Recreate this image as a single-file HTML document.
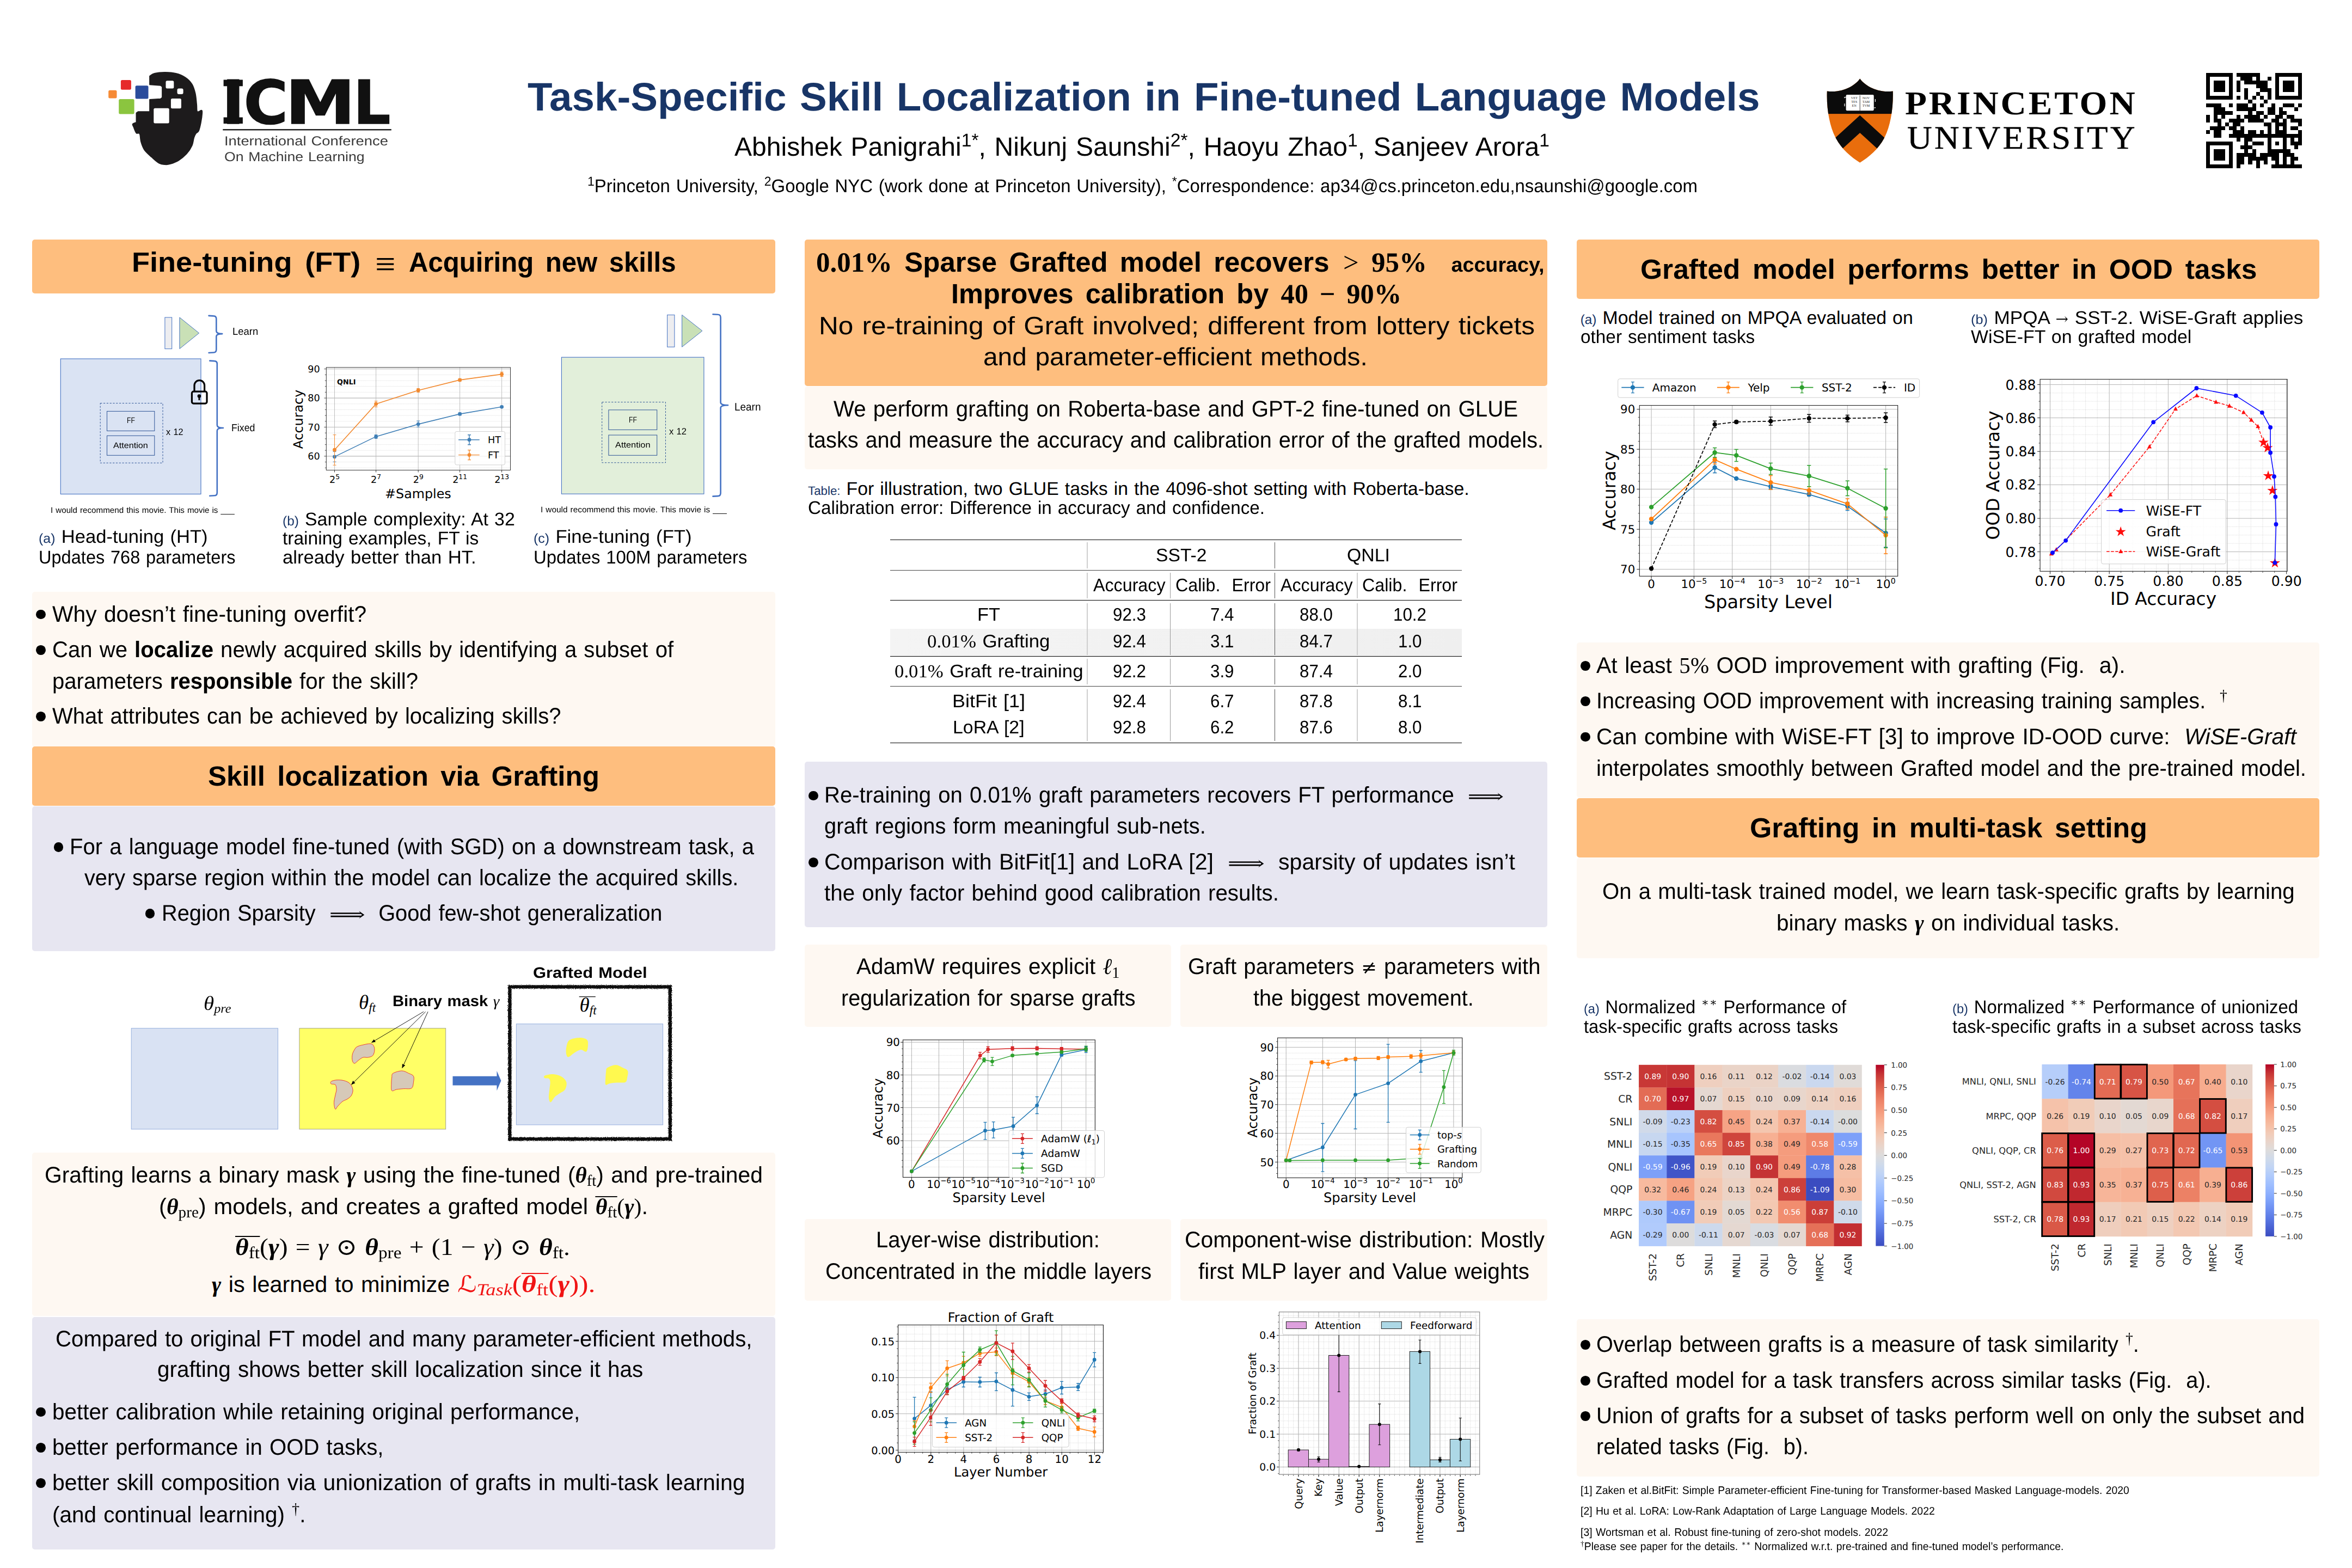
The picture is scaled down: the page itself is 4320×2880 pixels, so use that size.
<!DOCTYPE html>
<html lang="en"><head><meta charset="utf-8"><title>Task-Specific Skill Localization in Fine-tuned Language Models</title>
<style>
*{margin:0;padding:0;box-sizing:border-box}
html,body{width:4320px;height:2880px;background:#fff;overflow:hidden}
body{position:relative;font-family:"Liberation Sans",sans-serif;color:#000;text-rendering:geometricPrecision;font-kerning:normal}
.b{position:absolute;border-radius:5px}
.o{background:#FEBE7E}
.c{background:#FEF8F2}
.l{background:#E7E6F1}
.t{position:absolute;white-space:nowrap;line-height:1;transform-origin:0 0;word-spacing:.05em}
.bd{font-weight:bold}
.hd{word-spacing:.16em}
.xl{font-family:"DejaVu Sans Light","DejaVu Sans",sans-serif;font-weight:200;font-style:normal}
.m{font-family:"Liberation Serif",serif;font-style:italic}
.mb{font-family:"Liberation Serif",serif;font-style:italic;font-weight:bold}
.r{font-family:"Liberation Serif",serif}
.rb{font-family:"Liberation Serif",serif;font-weight:bold}
.dm{font-family:"DejaVu Serif",serif;font-style:normal}
.ds{font-family:"DejaVu Sans",sans-serif;font-style:normal}
.nv{color:#183567}
.sm{font-size:.72em}
.red{color:#F01414}
sup{font-size:.7em;vertical-align:baseline;position:relative;top:-.5em}
sub{font-size:.7em;vertical-align:baseline;position:relative;top:.22em}
.ov{background:linear-gradient(currentColor,currentColor) no-repeat 0 .1em/100% .045em}
svg{position:absolute;overflow:visible}
svg text{font-family:"DejaVu Sans",sans-serif}
.imp{display:inline-block;font-size:.8em;transform:scaleX(1.45);margin:0 .28em}
.ast{font-size:.62em;top:-.62em;letter-spacing:.05em}
.pb{display:inline-block;width:0;height:0}
</style></head>
<body>
<div class="t bd nv" style="left:968.5px;top:141.6px;font-size:73px;transform:scaleX(1.0219);">Task-Specific Skill Localization in Fine-tuned Language Models</div>
<div class="t" style="left:1349.0px;top:245.6px;font-size:48.4px;transform:scaleX(0.9935);">Abhishek Panigrahi<sup>1*</sup>, Nikunj Saunshi<sup>2*</sup>, Haoyu Zhao<sup>1</sup>, Sanjeev Arora<sup>1</sup></div>
<div class="t" style="left:1079.0px;top:326.0px;font-size:33.8px;transform:scaleX(0.9742);"><sup>1</sup>Princeton University, <sup>2</sup>Google NYC (work done at Princeton University), <sup>*</sup>Correspondence: ap34@cs.princeton.edu,nsaunshi@google.com</div>
<div class="b o" style="left:59px;top:440px;width:1365px;height:99px"></div>
<div class="t bd hd" style="left:241.7px;top:456.2px;font-size:51px;transform:scaleX(1.0608);">Fine-tuning (FT)</div>
<div class="t r" style="left:688.5px;top:452.5px;font-size:66px;transform:scaleX(1.0071);">&#8801;</div>
<div class="t bd hd" style="left:750.5px;top:456.2px;font-size:51px;transform:scaleX(0.9628);">Acquiring new skills</div>
<div class="t" style="left:71.4px;top:970.0px;font-size:33.8px;transform:scaleX(1.0231);"><span class="nv sm">(a)</span> Head-tuning (HT)</div>
<div class="t" style="left:71.4px;top:1007.8px;font-size:33.8px;transform:scaleX(0.9633);">Updates 768 parameters</div>
<div class="t" style="left:518.8px;top:937.5px;font-size:33.8px;transform:scaleX(1.0034);"><span class="nv sm">(b)</span> Sample complexity: At 32</div>
<div class="t" style="left:518.8px;top:973.0px;font-size:33.8px;transform:scaleX(0.9917);">training examples, FT is</div>
<div class="t" style="left:518.8px;top:1007.8px;font-size:33.8px;transform:scaleX(1.0248);">already better than HT.</div>
<div class="t" style="left:980.0px;top:970.0px;font-size:33.8px;transform:scaleX(1.0250);"><span class="nv sm">(c)</span> Fine-tuning (FT)</div>
<div class="t" style="left:980.0px;top:1007.8px;font-size:33.8px;transform:scaleX(0.9727);">Updates 100M parameters</div>
<div class="b c" style="left:59px;top:1087px;width:1365px;height:285px"></div>
<div style="position:absolute;left:66.3px;top:1119.6px;width:17.8px;height:17.8px;border-radius:50%;background:#000"></div>
<div class="t" style="left:95.5px;top:1107.5px;font-size:41.4px;transform:scaleX(0.9850);">Why doesn’t fine-tuning overfit?</div>
<div style="position:absolute;left:66.3px;top:1184.8px;width:17.8px;height:17.8px;border-radius:50%;background:#000"></div>
<div class="t" style="left:95.5px;top:1172.7px;font-size:41.4px;transform:scaleX(0.9687);">Can we <b>localize</b> newly acquired skills by identifying a subset of</div>
<div class="t" style="left:95.5px;top:1231.3px;font-size:41.4px;transform:scaleX(0.9686);">parameters <b>responsible</b> for the skill?</div>
<div style="position:absolute;left:66.3px;top:1306.8px;width:17.8px;height:17.8px;border-radius:50%;background:#000"></div>
<div class="t" style="left:95.5px;top:1294.7px;font-size:41.4px;transform:scaleX(0.9664);">What attributes can be achieved by localizing skills?</div>
<div class="b o" style="left:59px;top:1370.6px;width:1365px;height:109.20000000000005px"></div>
<div class="t bd hd" style="left:382.0px;top:1400.0px;font-size:51px;">Skill localization via Grafting</div>
<div class="b l" style="left:59px;top:1481px;width:1365px;height:266px"></div>
<div style="position:absolute;left:98.7px;top:1547.1px;width:17.8px;height:17.8px;border-radius:50%;background:#000"></div>
<div class="t" style="left:128.0px;top:1535.0px;font-size:41.4px;transform:scaleX(0.9689);">For a language model fine-tuned (with SGD) on a downstream task, a</div>
<div class="t" style="left:154.7px;top:1592.0px;font-size:41.4px;transform:scaleX(0.9599);">very sparse region within the model can localize the acquired skills.</div>
<div style="position:absolute;left:266.6px;top:1669.1px;width:17.8px;height:17.8px;border-radius:50%;background:#000"></div>
<div class="t" style="left:296.6px;top:1657.0px;font-size:41.4px;transform:scaleX(0.9606);">Region Sparsity &nbsp;<span class="dm imp">&#10233;</span>&nbsp; Good few-shot generalization</div>
<div class="b c" style="left:59px;top:2117px;width:1365px;height:300px"></div>
<div class="t" style="left:82.0px;top:2137.7px;font-size:41.4px;transform:scaleX(0.9860);">Grafting learns a binary mask <span class="mb">&gamma;</span> using the fine-tuned (<span class="mb">&theta;</span><sub class="r">ft</sub>) and pre-trained</div>
<div class="t" style="left:292.0px;top:2196.0px;font-size:41.4px;transform:scaleX(1.0080);">(<span class="mb">&theta;</span><sub class="r">pre</sub>) models, and creates a grafted model <span class="ov"><span class="mb">&theta;</span><sub class="r">ft</sub></span><span class="r">(</span><span class="mb">&gamma;</span><span class="r">)</span>.</div>
<div class="t" style="left:432.0px;top:2268.5px;font-size:44px;transform:scaleX(1.0812);"><span class="r"><span class="ov"><span class="mb">&theta;</span><sub>ft</sub></span>(<span class="mb">&gamma;</span>) = <span class="m">&gamma;</span> <span class="dm" style="font-size:.98em">&#8857;</span> <span class="mb">&theta;</span><sub>pre</sub> + (1 &minus; <span class="m">&gamma;</span>) <span class="dm" style="font-size:.98em">&#8857;</span> <span class="mb">&theta;</span><sub>ft</sub>.</span></div>
<div class="t" style="left:389.0px;top:2338.7px;font-size:41.4px;"><span class="mb">&gamma;</span> is learned to minimize</div>
<div class="t" style="left:840.0px;top:2336.7px;font-size:44px;transform:scaleX(1.1792);"><span class="red r"><span class="ds" style="font-size:.95em">&Lscr;</span><sub class="m">Task</sub>(<span class="ov"><span class="mb">&theta;</span><sub>ft</sub></span>(<span class="mb">&gamma;</span>)).</span></div>
<div class="b l" style="left:59px;top:2419px;width:1365px;height:427px"></div>
<div class="t" style="left:102.0px;top:2438.5px;font-size:41.4px;transform:scaleX(0.9714);">Compared to original FT model and many parameter-efficient methods,</div>
<div class="t" style="left:288.7px;top:2494.6px;font-size:41.4px;transform:scaleX(0.9762);">grafting shows better skill localization since it has</div>
<div style="position:absolute;left:66.3px;top:2584.6px;width:17.8px;height:17.8px;border-radius:50%;background:#000"></div>
<div class="t" style="left:95.5px;top:2572.5px;font-size:41.4px;transform:scaleX(0.9762);">better calibration while retaining original performance,</div>
<div style="position:absolute;left:66.3px;top:2649.8px;width:17.8px;height:17.8px;border-radius:50%;background:#000"></div>
<div class="t" style="left:95.5px;top:2637.7px;font-size:41.4px;transform:scaleX(0.9704);">better performance in OOD tasks,</div>
<div style="position:absolute;left:66.3px;top:2715.1px;width:17.8px;height:17.8px;border-radius:50%;background:#000"></div>
<div class="t" style="left:95.5px;top:2703.0px;font-size:41.4px;transform:scaleX(0.9893);">better skill composition via unionization of grafts in multi-task learning</div>
<div class="t" style="left:95.5px;top:2761.5px;font-size:41.4px;transform:scaleX(0.9774);">(and continual learning) <sup class="r">&dagger;</sup>.</div>
<div class="b o" style="left:1478px;top:440px;width:1364px;height:269px"></div>
<div class="t bd hd" style="left:1499.0px;top:456.0px;font-size:51px;transform:scaleX(0.9985);"><span class="rb">0.01%</span> Sparse Grafted model recovers <span class="rb"><span style="font-weight:normal" class="m">&gt;</span> 95%</span> &nbsp;<span style="font-size:.74em">accuracy,</span></div>
<div class="t bd hd" style="left:1746.8px;top:514.0px;font-size:51px;transform:scaleX(0.9906);">Improves calibration by <span class="rb">40 &minus; 90%</span></div>
<div class="t" style="left:1503.5px;top:575.4px;font-size:46.1px;transform:scaleX(1.0742);">No re-training of Graft involved; different from lottery tickets</div>
<div class="t" style="left:1806.0px;top:631.6px;font-size:46.1px;transform:scaleX(1.0375);">and parameter-efficient methods.</div>
<div class="b c" style="left:1478px;top:709.8px;width:1364px;height:152.70000000000005px"></div>
<div class="t" style="left:1531.0px;top:731.0px;font-size:41.4px;transform:scaleX(0.9726);">We perform grafting on Roberta-base and GPT-2 fine-tuned on GLUE</div>
<div class="t" style="left:1484.0px;top:787.5px;font-size:41.4px;transform:scaleX(0.9581);">tasks and measure the accuracy and calibration error of the grafted models.</div>
<div class="t" style="left:1484.0px;top:882.0px;font-size:33.8px;"><span class="nv" style="font-size:.66em">Table:</span> For illustration, two GLUE tasks in the 4096-shot setting with Roberta-base.</div>
<div class="t" style="left:1484.0px;top:917.0px;font-size:33.8px;transform:scaleX(0.9836);">Calibration error: Difference in accuracy and confidence.</div>
<div style="position:absolute;left:1635px;top:1155px;width:1049.5px;height:49.5px;background:linear-gradient(90deg,#F4F4F4,#EFEFEF)"></div>
<div style="position:absolute;left:1635px;top:991px;width:1049.5px;height:1.25px;background:#000"></div>
<div style="position:absolute;left:1635px;top:1047px;width:1049.5px;height:1.25px;background:#444"></div>
<div style="position:absolute;left:1635px;top:1102px;width:1049.5px;height:1.25px;background:#000"></div>
<div style="position:absolute;left:1635px;top:1205px;width:1049.5px;height:1.25px;background:#000"></div>
<div style="position:absolute;left:1635px;top:1260px;width:1049.5px;height:1.25px;background:#444"></div>
<div style="position:absolute;left:1635px;top:1364px;width:1049.5px;height:1.25px;background:#000"></div>
<div style="position:absolute;left:1996.4px;top:996px;width:1.2px;height:48px;background:#cfcfcf"></div>
<div style="position:absolute;left:2340.9px;top:996px;width:1.2px;height:48px;background:#555"></div>
<div style="position:absolute;left:1996.4px;top:1052px;width:1.2px;height:47px;background:#cfcfcf"></div>
<div style="position:absolute;left:2340.9px;top:1052px;width:1.2px;height:47px;background:#555"></div>
<div style="position:absolute;left:1996.4px;top:1108px;width:1.2px;height:95px;background:#cfcfcf"></div>
<div style="position:absolute;left:2340.9px;top:1108px;width:1.2px;height:95px;background:#555"></div>
<div style="position:absolute;left:1996.4px;top:1210px;width:1.2px;height:47px;background:#cfcfcf"></div>
<div style="position:absolute;left:2340.9px;top:1210px;width:1.2px;height:47px;background:#555"></div>
<div style="position:absolute;left:1996.4px;top:1266px;width:1.2px;height:95px;background:#cfcfcf"></div>
<div style="position:absolute;left:2340.9px;top:1266px;width:1.2px;height:95px;background:#555"></div>
<div style="position:absolute;left:2148.9px;top:1052px;width:1.2px;height:47px;background:#999"></div>
<div style="position:absolute;left:2492.4px;top:1052px;width:1.2px;height:47px;background:#cfcfcf"></div>
<div style="position:absolute;left:2148.9px;top:1108px;width:1.2px;height:95px;background:#999"></div>
<div style="position:absolute;left:2492.4px;top:1108px;width:1.2px;height:95px;background:#cfcfcf"></div>
<div style="position:absolute;left:2148.9px;top:1210px;width:1.2px;height:47px;background:#999"></div>
<div style="position:absolute;left:2492.4px;top:1210px;width:1.2px;height:47px;background:#cfcfcf"></div>
<div style="position:absolute;left:2148.9px;top:1266px;width:1.2px;height:95px;background:#999"></div>
<div style="position:absolute;left:2492.4px;top:1266px;width:1.2px;height:95px;background:#cfcfcf"></div>
<div class="t" style="left:2123.2px;top:1003.6px;font-size:33.4px;transform:scaleX(1.0076);">SST-2</div>
<div class="t" style="left:2474.1px;top:1003.6px;font-size:33.4px;transform:scaleX(1.0111);">QNLI</div>
<div class="t" style="left:2007.8px;top:1058.6px;font-size:33.4px;transform:scaleX(0.9650);">Accuracy</div>
<div class="t" style="left:2351.8px;top:1058.6px;font-size:33.4px;transform:scaleX(0.9650);">Accuracy</div>
<div class="t" style="left:2158.5px;top:1058.6px;font-size:33.4px;transform:scaleX(0.9644);">Calib. &nbsp;Error</div>
<div class="t" style="left:2502.1px;top:1058.6px;font-size:33.4px;transform:scaleX(0.9644);">Calib. &nbsp;Error</div>
<div class="t" style="left:1795.0px;top:1113.0px;font-size:33.4px;transform:scaleX(1.0295);">FT</div>
<div class="t" style="left:2043.6px;top:1113.0px;font-size:33.4px;transform:scaleX(0.9362);">92.3</div>
<div class="t" style="left:2223.3px;top:1113.0px;font-size:33.4px;transform:scaleX(0.9362);">7.4</div>
<div class="t" style="left:2387.1px;top:1113.0px;font-size:33.4px;transform:scaleX(0.9362);">88.0</div>
<div class="t" style="left:2559.2px;top:1113.0px;font-size:33.4px;transform:scaleX(0.9362);">10.2</div>
<div class="t" style="left:1703.2px;top:1162.4px;font-size:33.4px;transform:scaleX(1.0441);"><span class="r">0.01%</span> Grafting</div>
<div class="t" style="left:2043.6px;top:1162.4px;font-size:33.4px;transform:scaleX(0.9362);">92.4</div>
<div class="t" style="left:2223.3px;top:1162.4px;font-size:33.4px;transform:scaleX(0.9362);">3.1</div>
<div class="t" style="left:2387.1px;top:1162.4px;font-size:33.4px;transform:scaleX(0.9362);">84.7</div>
<div class="t" style="left:2567.9px;top:1162.4px;font-size:33.4px;transform:scaleX(0.9362);">1.0</div>
<div class="t" style="left:1642.8px;top:1216.8px;font-size:33.4px;transform:scaleX(1.0415);"><span class="r">0.01%</span> Graft re-training</div>
<div class="t" style="left:2043.6px;top:1216.8px;font-size:33.4px;transform:scaleX(0.9362);">92.2</div>
<div class="t" style="left:2223.3px;top:1216.8px;font-size:33.4px;transform:scaleX(0.9362);">3.9</div>
<div class="t" style="left:2387.1px;top:1216.8px;font-size:33.4px;transform:scaleX(0.9362);">87.4</div>
<div class="t" style="left:2567.9px;top:1216.8px;font-size:33.4px;transform:scaleX(0.9362);">2.0</div>
<div class="t" style="left:1749.0px;top:1272.0px;font-size:33.4px;transform:scaleX(1.0794);">BitFit [1]</div>
<div class="t" style="left:2043.6px;top:1272.0px;font-size:33.4px;transform:scaleX(0.9362);">92.4</div>
<div class="t" style="left:2223.3px;top:1272.0px;font-size:33.4px;transform:scaleX(0.9362);">6.7</div>
<div class="t" style="left:2387.1px;top:1272.0px;font-size:33.4px;transform:scaleX(0.9362);">87.8</div>
<div class="t" style="left:2567.9px;top:1272.0px;font-size:33.4px;transform:scaleX(0.9362);">8.1</div>
<div class="t" style="left:1750.2px;top:1320.0px;font-size:33.4px;transform:scaleX(1.0141);">LoRA [2]</div>
<div class="t" style="left:2043.6px;top:1320.0px;font-size:33.4px;transform:scaleX(0.9362);">92.8</div>
<div class="t" style="left:2223.3px;top:1320.0px;font-size:33.4px;transform:scaleX(0.9362);">6.2</div>
<div class="t" style="left:2387.1px;top:1320.0px;font-size:33.4px;transform:scaleX(0.9362);">87.6</div>
<div class="t" style="left:2567.9px;top:1320.0px;font-size:33.4px;transform:scaleX(0.9362);">8.0</div>
<div class="b l" style="left:1478px;top:1399px;width:1364px;height:304px"></div>
<div style="position:absolute;left:1484.9px;top:1452.5px;width:17.8px;height:17.8px;border-radius:50%;background:#000"></div>
<div class="t" style="left:1514.0px;top:1440.4px;font-size:41.4px;transform:scaleX(0.9689);">Re-training on 0.01% graft parameters recovers FT performance &nbsp;<span class="dm imp">&#10233;</span></div>
<div class="t" style="left:1514.0px;top:1496.5px;font-size:41.4px;transform:scaleX(0.9620);">graft regions form meaningful sub-nets.</div>
<div style="position:absolute;left:1484.9px;top:1575.1px;width:17.8px;height:17.8px;border-radius:50%;background:#000"></div>
<div class="t" style="left:1514.0px;top:1563.0px;font-size:41.4px;transform:scaleX(0.9912);">Comparison with BitFit[1] and LoRA [2] &nbsp;<span class="dm imp">&#10233;</span>&nbsp; sparsity of updates isn’t</div>
<div class="t" style="left:1514.0px;top:1620.0px;font-size:41.4px;transform:scaleX(0.9745);">the only factor behind good calibration results.</div>
<div class="b c" style="left:1478px;top:1735px;width:673px;height:151px"></div>
<div class="b c" style="left:2168px;top:1735px;width:674px;height:151px"></div>
<div class="t" style="left:1573.0px;top:1755.4px;font-size:41.4px;transform:scaleX(0.9754);">AdamW requires explicit <span class="m">&ell;</span><sub class="r">1</sub></div>
<div class="t" style="left:1544.5px;top:1812.8px;font-size:41.4px;transform:scaleX(0.9562);">regularization for sparse grafts</div>
<div class="t" style="left:2181.5px;top:1755.4px;font-size:41.4px;transform:scaleX(0.9692);">Graft parameters <span class="dm" style="font-size:.85em">&ne;</span> parameters with</div>
<div class="t" style="left:2302.0px;top:1812.8px;font-size:41.4px;transform:scaleX(0.9570);">the biggest movement.</div>
<div class="b c" style="left:1478px;top:2239px;width:673px;height:150px"></div>
<div class="b c" style="left:2168px;top:2239px;width:674px;height:150px"></div>
<div class="t" style="left:1609.0px;top:2257.0px;font-size:41.4px;transform:scaleX(0.9662);">Layer-wise distribution:</div>
<div class="t" style="left:1516.0px;top:2314.7px;font-size:41.4px;transform:scaleX(0.9586);">Concentrated in the middle layers</div>
<div class="t" style="left:2175.5px;top:2257.0px;font-size:41.4px;transform:scaleX(0.9882);">Component-wise distribution: Mostly</div>
<div class="t" style="left:2201.0px;top:2314.7px;font-size:41.4px;transform:scaleX(0.9794);">first MLP layer and Value weights</div>
<div class="b o" style="left:2896px;top:440px;width:1364px;height:108.60000000000002px"></div>
<div class="t bd hd" style="left:3013.0px;top:468.5px;font-size:51px;transform:scaleX(1.0110);">Grafted model performs better in OOD tasks</div>
<div class="t" style="left:2902.7px;top:568.4px;font-size:33.8px;"><span class="nv sm">(a)</span> Model trained on MPQA evaluated on</div>
<div class="t" style="left:2902.7px;top:603.4px;font-size:33.8px;transform:scaleX(0.9867);">other sentiment tasks</div>
<div class="t" style="left:3619.6px;top:568.4px;font-size:33.8px;transform:scaleX(1.0403);"><span class="nv sm">(b)</span> MPQA <span class="dm" style="font-size:.8em">&rarr;</span> SST-2. WiSE-Graft applies</div>
<div class="t" style="left:3619.6px;top:603.4px;font-size:33.8px;transform:scaleX(1.0021);">WiSE-FT on grafted model</div>
<div class="b c" style="left:2896px;top:1180px;width:1364px;height:285px"></div>
<div style="position:absolute;left:2903.2px;top:1214.1px;width:17.8px;height:17.8px;border-radius:50%;background:#000"></div>
<div class="t" style="left:2932.0px;top:1202.0px;font-size:41.4px;transform:scaleX(0.9914);">At least <span class="r">5%</span> OOD improvement with grafting (Fig. &nbsp;a).</div>
<div style="position:absolute;left:2903.2px;top:1279.1px;width:17.8px;height:17.8px;border-radius:50%;background:#000"></div>
<div class="t" style="left:2932.0px;top:1267.0px;font-size:41.4px;transform:scaleX(0.9569);">Increasing OOD improvement with increasing training samples. &nbsp;<sup class="r">&dagger;</sup></div>
<div style="position:absolute;left:2903.2px;top:1344.6px;width:17.8px;height:17.8px;border-radius:50%;background:#000"></div>
<div class="t" style="left:2932.0px;top:1332.5px;font-size:41.4px;transform:scaleX(0.9833);">Can combine with WiSE-FT [3] to improve ID-OOD curve: &nbsp;<i>WiSE-Graft</i></div>
<div class="t" style="left:2932.0px;top:1390.7px;font-size:41.4px;transform:scaleX(0.9685);">interpolates smoothly between Grafted model and the pre-trained model.</div>
<div class="b o" style="left:2896px;top:1466px;width:1364px;height:108.70000000000005px"></div>
<div class="t bd hd" style="left:3213.7px;top:1494.5px;font-size:51px;transform:scaleX(1.0155);">Grafting in multi-task setting</div>
<div class="b c" style="left:2896px;top:1576px;width:1364px;height:184px"></div>
<div class="t" style="left:2943.0px;top:1617.0px;font-size:41.4px;transform:scaleX(0.9715);">On a multi-task trained model, we learn task-specific grafts by learning</div>
<div class="t" style="left:3262.7px;top:1675.4px;font-size:41.4px;transform:scaleX(0.9785);">binary masks <span class="mb">&gamma;</span> on individual tasks.</div>
<div class="t" style="left:2908.8px;top:1834.0px;font-size:33.8px;transform:scaleX(0.9698);"><span class="nv sm">(a)</span> Normalized <sup class="dm ast">&lowast;&lowast;</sup> Performance of</div>
<div class="t" style="left:2908.8px;top:1869.7px;font-size:33.8px;transform:scaleX(0.9690);">task-specific grafts across tasks</div>
<div class="t" style="left:3586.0px;top:1834.0px;font-size:33.8px;transform:scaleX(0.9725);"><span class="nv sm">(b)</span> Normalized <sup class="dm ast">&lowast;&lowast;</sup> Performance of unionized</div>
<div class="t" style="left:3586.0px;top:1869.7px;font-size:33.8px;transform:scaleX(0.9711);">task-specific grafts in a subset across tasks</div>
<div class="b c" style="left:2896px;top:2422.7px;width:1364px;height:289.3000000000002px"></div>
<div style="position:absolute;left:2903.2px;top:2460.8px;width:17.8px;height:17.8px;border-radius:50%;background:#000"></div>
<div class="t" style="left:2932.0px;top:2448.7px;font-size:41.4px;transform:scaleX(0.9600);">Overlap between grafts is a measure of task similarity <sup class="r">&dagger;</sup>.</div>
<div style="position:absolute;left:2903.2px;top:2526.9px;width:17.8px;height:17.8px;border-radius:50%;background:#000"></div>
<div class="t" style="left:2932.0px;top:2514.8px;font-size:41.4px;transform:scaleX(0.9594);">Grafted model for a task transfers across similar tasks (Fig. &nbsp;a).</div>
<div style="position:absolute;left:2903.2px;top:2592.1px;width:17.8px;height:17.8px;border-radius:50%;background:#000"></div>
<div class="t" style="left:2932.0px;top:2580.0px;font-size:41.4px;transform:scaleX(0.9673);">Union of grafts for a subset of tasks perform well on only the subset and</div>
<div class="t" style="left:2932.0px;top:2637.0px;font-size:41.4px;transform:scaleX(0.9546);">related tasks (Fig. &nbsp;b).</div>
<div class="t" style="left:2902.7px;top:2728.0px;font-size:20.2px;transform:scaleX(0.9589);">[1] Zaken et al.BitFit: Simple Parameter-efficient Fine-tuning for Transformer-based Masked Language-models. 2020</div>
<div class="t" style="left:2902.7px;top:2766.0px;font-size:20.2px;transform:scaleX(0.9634);">[2] Hu et al. LoRA: Low-Rank Adaptation of Large Language Models. 2022</div>
<div class="t" style="left:2902.7px;top:2804.6px;font-size:20.2px;transform:scaleX(0.9633);">[3] Wortsman et al. Robust fine-tuning of zero-shot models. 2022</div>
<div class="t" style="left:2902.7px;top:2831.0px;font-size:20.2px;transform:scaleX(0.9585);"><sup class="r">&dagger;</sup>Please see paper for the details. <sup class="dm ast">&lowast;&lowast;</sup> Normalized w.r.t. pre-trained and fine-tuned model’s performance.</div>
<svg style="left:0;top:0" width="800" height="340" viewBox="0 0 800 340"><path d="M274.9 139.6 C276.4 138.8 278.8 135.8 283.6 134.7 C288.3 133.5 296.7 132.7 303.3 132.7 C309.9 132.7 316.9 133.1 323.0 134.7 C329.2 136.2 335.4 138.8 340.3 142.1 C345.2 145.3 349.5 149.5 352.6 154.4 C355.7 159.3 357.3 165.5 358.8 171.6 C360.2 177.8 360.6 185.8 361.2 191.4 C361.9 196.9 361.0 203.1 362.5 204.9 C363.9 206.8 368.4 202.1 369.9 202.5 C371.4 202.9 371.5 203.5 371.4 207.4 C371.2 211.3 370.0 220.4 368.9 225.9 C367.8 231.4 366.4 237.5 364.9 240.7 C363.5 243.9 361.5 243.1 360.0 245.1 C358.6 247.2 357.5 249.2 356.3 253.0 C355.1 256.8 354.9 262.9 352.6 267.8 C350.4 272.8 346.9 278.1 342.8 282.6 C338.6 287.1 332.9 291.9 328.0 294.9 C323.0 298.0 317.3 299.9 313.2 301.1 C309.1 302.3 306.8 302.6 303.3 302.3 C299.8 302.1 296.3 302.1 292.2 299.9 C288.1 297.6 283.2 292.9 278.6 288.8 C274.1 284.7 268.4 279.9 265.1 275.2 C261.8 270.5 260.3 265.4 258.9 260.4 C257.5 255.5 257.9 248.3 256.4 245.6 C255.0 243.0 252.1 246.5 250.3 244.4 C248.4 242.3 246.5 236.1 245.3 233.3 C244.2 230.5 242.8 229.3 243.6 227.9 C244.4 226.4 249.2 225.2 250.3 224.7 L250.3 207.4 L254.0 204.9 L274.9 204.9 L274.9 182.7 L294.7 181.5 L297.9 179.0 L297.9 159.3 L294.7 156.9 L274.9 155.6 Z" fill="#1d1b1c" stroke="#1d1b1c" stroke-width="1.5" stroke-linejoin="round"/><rect x="304.5" y="148.2" width="14.8" height="14.3" rx="2.5" fill="#fff"/><rect x="325.5" y="162.5" width="11.1" height="10.4" rx="3" fill="#fff"/><rect x="313.9" y="181.0" width="19.0" height="18.2" rx="2.5" fill="#fff"/><rect x="282.3" y="198.8" width="28.4" height="27.6" rx="2.5" fill="#fff"/><rect x="221.9" y="147.0" width="19.0" height="17.8" rx="2.5" fill="#E62A2B"/><rect x="199.2" y="165.7" width="15.3" height="14.8" rx="2.5" fill="#F68B35"/><rect x="248.6" y="157.3" width="23.9" height="24.2" rx="2.5" fill="#2A4C9C"/><rect x="218.2" y="182.0" width="28.4" height="27.4" rx="2.5" fill="#8BC53F"/><rect x="410.6" y="146.5" width="35.3" height="11.8" fill="#111"/><rect x="410.6" y="215.5" width="35.3" height="11.6" fill="#111"/><rect x="409.3" y="237.0" width="309.5" height="2.5" fill="#222"/></svg>
<div class="t bd" style="left:407.7px;top:135.1px;font-size:110.6px;font-family:'DejaVu Sans',sans-serif;color:#111;-webkit-text-stroke:1.6px #111;">I</div>
<div class="t bd" style="left:447.7px;top:135.1px;font-size:110.6px;font-family:'DejaVu Sans',sans-serif;color:#111;-webkit-text-stroke:1.6px #111;">C</div>
<div class="t bd" style="left:523.7px;top:135.1px;font-size:110.6px;transform:scaleX(1.1700);font-family:'DejaVu Sans',sans-serif;color:#111;-webkit-text-stroke:1.6px #111;">M</div>
<div class="t bd" style="left:649.4px;top:135.1px;font-size:110.6px;transform:scaleX(0.9700);font-family:'DejaVu Sans',sans-serif;color:#111;-webkit-text-stroke:1.6px #111;">L</div>
<div class="t" style="left:411.8px;top:248.1px;font-size:24px;transform:scaleX(1.1394);color:#3a3a3a;">International Conference</div>
<div class="t" style="left:411.8px;top:277.2px;font-size:24px;transform:scaleX(1.1113);color:#3a3a3a;">On Machine Learning</div>
<svg style="left:3330px;top:120px" width="640" height="210" viewBox="3330 120 640 210"><defs><clipPath id="shc"><path d="M3416.2 144.5 C3424.9 156.9 3448.6 171.4 3476.8 167.4 C3477.6 199.1 3472.3 230.7 3461.8 251.8 C3451.3 272.9 3432.8 288.7 3416.2 298.7 C3399.9 288.7 3381.4 272.9 3370.9 251.8 C3360.3 230.7 3354.5 199.1 3355.8 167.4 C3384.0 171.4 3407.8 156.9 3416.2 144.5 Z"/></clipPath></defs><g clip-path="url(#shc)"><rect x="3330" y="120" width="300" height="210" fill="#E96D0C"/><rect x="3345.8" y="135.8" width="142.3" height="73.3" fill="#0b0b0b"/><path d="M3416.2 211.7 L3488.2 277.6 L3488.2 309.8 L3416.2 243.9 L3344.2 309.8 L3344.2 277.6 Z" fill="#0b0b0b"/></g><rect x="3390.6" y="174.0" width="51.1" height="29.3" rx="2" fill="#fff"/><rect x="3388.0" y="178.5" width="56.4" height="19.5" fill="none" stroke="#fff" stroke-width="1.2" stroke-dasharray="5 10"/><line x1="3416.2" y1="175.0" x2="3416.2" y2="203.3" stroke="#0b0b0b" stroke-width="0.8"/><text x="3405.7" y="182.2" font-size="6.2" text-anchor="middle" style="font-family:'Liberation Serif',serif" fill="#111">VET</text><text x="3427.5" y="182.2" font-size="6.2" text-anchor="middle" style="font-family:'Liberation Serif',serif" fill="#111">NOV</text><text x="3405.7" y="189.3" font-size="6.2" text-anchor="middle" style="font-family:'Liberation Serif',serif" fill="#111">TES</text><text x="3427.5" y="189.3" font-size="6.2" text-anchor="middle" style="font-family:'Liberation Serif',serif" fill="#111">TAM</text><text x="3405.7" y="196.4" font-size="6.2" text-anchor="middle" style="font-family:'Liberation Serif',serif" fill="#111">EN</text><text x="3427.5" y="196.4" font-size="6.2" text-anchor="middle" style="font-family:'Liberation Serif',serif" fill="#111">TVM</text></svg>
<div class="t rb" style="left:3498.7px;top:159.6px;font-size:61px;transform:scaleX(1.0721);letter-spacing:.06em;">PRINCETON</div>
<div class="t r" style="left:3502.7px;top:222.9px;font-size:60px;transform:scaleX(1.0526);letter-spacing:.07em;-webkit-text-stroke:.5px #000;">UNIVERSITY</div>
<svg style="left:4052.1px;top:134.0px" width="176.1" height="174.9" viewBox="0 0 25 25" preserveAspectRatio="none" shape-rendering="crispEdges"><path fill="#000" d="M0 0h7v1h-7zM8 0h6v1h-6zM18 0h7v1h-7zM0 1h1v1h-1zM6 1h1v1h-1zM9 1h3v1h-3zM13 1h1v1h-1zM16 1h1v1h-1zM18 1h1v1h-1zM24 1h1v1h-1zM0 2h1v1h-1zM2 2h3v1h-3zM6 2h1v1h-1zM8 2h1v1h-1zM10 2h6v1h-6zM18 2h1v1h-1zM20 2h3v1h-3zM24 2h1v1h-1zM0 3h1v1h-1zM2 3h3v1h-3zM6 3h1v1h-1zM8 3h1v1h-1zM13 3h3v1h-3zM18 3h1v1h-1zM20 3h3v1h-3zM24 3h1v1h-1zM0 4h1v1h-1zM2 4h3v1h-3zM6 4h1v1h-1zM8 4h1v1h-1zM10 4h1v1h-1zM14 4h3v1h-3zM18 4h1v1h-1zM20 4h3v1h-3zM24 4h1v1h-1zM0 5h1v1h-1zM6 5h1v1h-1zM10 5h1v1h-1zM13 5h1v1h-1zM16 5h1v1h-1zM18 5h1v1h-1zM24 5h1v1h-1zM0 6h7v1h-7zM8 6h1v1h-1zM10 6h1v1h-1zM12 6h1v1h-1zM14 6h1v1h-1zM16 6h1v1h-1zM18 6h7v1h-7zM11 7h1v1h-1zM15 7h1v1h-1zM0 8h4v1h-4zM6 8h1v1h-1zM8 8h3v1h-3zM12 8h1v1h-1zM14 8h1v1h-1zM17 8h1v1h-1zM20 8h3v1h-3zM24 8h1v1h-1zM2 9h3v1h-3zM8 9h5v1h-5zM16 9h2v1h-2zM19 9h1v1h-1zM23 9h1v1h-1zM2 10h5v1h-5zM11 10h1v1h-1zM13 10h2v1h-2zM16 10h2v1h-2zM19 10h2v1h-2zM0 11h1v1h-1zM2 11h1v1h-1zM4 11h1v1h-1zM8 11h1v1h-1zM10 11h4v1h-4zM15 11h1v1h-1zM18 11h2v1h-2zM21 11h2v1h-2zM0 12h1v1h-1zM2 12h2v1h-2zM6 12h4v1h-4zM11 12h4v1h-4zM17 12h2v1h-2zM20 12h1v1h-1zM22 12h3v1h-3zM3 13h1v1h-1zM5 13h1v1h-1zM7 13h2v1h-2zM15 13h2v1h-2zM18 13h3v1h-3zM24 13h1v1h-1zM1 14h4v1h-4zM6 14h2v1h-2zM9 14h1v1h-1zM16 14h1v1h-1zM18 14h1v1h-1zM20 14h1v1h-1zM22 14h2v1h-2zM0 15h1v1h-1zM2 15h2v1h-2zM7 15h3v1h-3zM11 15h2v1h-2zM14 15h1v1h-1zM16 15h1v1h-1zM18 15h3v1h-3zM24 15h1v1h-1zM2 16h2v1h-2zM6 16h19v1h-19zM8 17h1v1h-1zM10 17h2v1h-2zM16 17h1v1h-1zM20 17h1v1h-1zM22 17h1v1h-1zM24 17h1v1h-1zM0 18h7v1h-7zM10 18h1v1h-1zM12 18h3v1h-3zM16 18h1v1h-1zM18 18h1v1h-1zM20 18h1v1h-1zM22 18h3v1h-3zM0 19h1v1h-1zM6 19h1v1h-1zM9 19h3v1h-3zM16 19h1v1h-1zM20 19h1v1h-1zM23 19h1v1h-1zM0 20h1v1h-1zM2 20h3v1h-3zM6 20h1v1h-1zM10 20h1v1h-1zM12 20h1v1h-1zM16 20h6v1h-6zM0 21h1v1h-1zM2 21h3v1h-3zM6 21h1v1h-1zM8 21h5v1h-5zM14 21h5v1h-5zM20 21h3v1h-3zM0 22h1v1h-1zM2 22h3v1h-3zM6 22h1v1h-1zM8 22h2v1h-2zM11 22h5v1h-5zM17 22h2v1h-2zM20 22h1v1h-1zM22 22h2v1h-2zM0 23h1v1h-1zM6 23h1v1h-1zM8 23h2v1h-2zM11 23h1v1h-1zM13 23h1v1h-1zM15 23h1v1h-1zM18 23h1v1h-1zM20 23h1v1h-1zM22 23h1v1h-1zM0 24h7v1h-7zM8 24h1v1h-1zM13 24h1v1h-1zM17 24h8v1h-8z"/></svg>
<svg style="left:0;top:560px" width="1440" height="400" viewBox="0 560 1440 400"><rect x="111.3" y="659.0" width="257.7" height="248.5" fill="#DAE3F3" stroke="#4472C4" stroke-width="1.1" /><rect x="302.9" y="583.0" width="12.8" height="57.7" fill="#EDEDF0" stroke="#4472C4" stroke-width="1" /><polygon points="329.9,583.0 329.9,640.6 365.6,611.8" fill="#C9E0B6" stroke="#4472C4" stroke-width="1"/><path d="M383.5 579.9 L392.3 580.4 Q397.3 580.4 397.3 585.9 L397.3 608.1 Q397.3 613.1 408.2 613.1 Q397.3 613.1 397.3 618.1 L397.3 642.0 Q397.3 647.5 392.3 647.5 L383.5 648.0" fill="none" stroke="#4472C4" stroke-width="2.6" stroke-linecap="round" stroke-linejoin="round"/><path d="M385.3 662.6 L393.8 663.1 Q398.8 663.1 398.8 668.6 L398.8 781.0 Q398.8 786.0 410.0 786.0 Q398.8 786.0 398.8 791.0 L398.8 904.8 Q398.8 910.3 393.8 910.3 L385.3 910.8" fill="none" stroke="#4472C4" stroke-width="2.6" stroke-linecap="round" stroke-linejoin="round"/><rect x="184.2" y="740.6" width="114.8" height="109.7" fill="none" stroke="#2F5597" stroke-width="1.0" stroke-dasharray="3.2 2.6"/><rect x="196.5" y="755.4" width="87.3" height="36.0" fill="#DAE3F3" stroke="#2F5597" stroke-width="1" /><rect x="196.5" y="800.3" width="87.3" height="36.0" fill="#DAE3F3" stroke="#2F5597" stroke-width="1" /><rect x="352.4" y="719.2" width="27.6" height="21.9" rx="3" fill="none" stroke="#000" stroke-width="3.2"/><path d="M357.0 718.7 V708.0 A9.3 9.3 0 0 1 375.6 708.0 V718.7" fill="none" stroke="#000" stroke-width="3.2"/><circle cx="365.9" cy="727.6" r="3.3" fill="#000"/><rect x="364.5" y="727.6" width="2.8" height="7.5" fill="#000"/><rect x="1031.4" y="656.2" width="261.5" height="251.0" fill="#E2EFDA" stroke="#4472C4" stroke-width="1.1" /><rect x="1225.6" y="578.4" width="13.3" height="58.9" fill="#EDEDF0" stroke="#4472C4" stroke-width="1" /><polygon points="1252.6,578.4 1252.6,637.3 1289.9,607.7" fill="#C9E0B6" stroke="#4472C4" stroke-width="1"/><path d="M1309.5 577.3 L1318.6 577.8 Q1323.6 577.8 1323.6 583.3 L1323.6 739.2 Q1323.6 744.2 1337.1 744.2 Q1323.6 744.2 1323.6 749.2 L1323.6 905.6 Q1323.6 911.1 1318.6 911.1 L1309.5 911.6" fill="none" stroke="#4472C4" stroke-width="2.6" stroke-linecap="round" stroke-linejoin="round"/><rect x="1105.7" y="738.6" width="116.8" height="111.2" fill="none" stroke="#2F5597" stroke-width="1.0" stroke-dasharray="3.2 2.6"/><rect x="1117.9" y="752.9" width="88.8" height="36.5" fill="#E2EFDA" stroke="#2F5597" stroke-width="1" /><rect x="1117.9" y="799.1" width="88.8" height="37.2" fill="#E2EFDA" stroke="#2F5597" stroke-width="1" /></svg>
<div class="t" style="left:426.6px;top:600.4px;font-size:19px;transform:scaleX(0.9710);">Learn</div>
<div class="t" style="left:424.8px;top:776.7px;font-size:19px;transform:scaleX(0.9334);">Fixed</div>
<div class="t" style="left:232.7px;top:764.9px;font-size:15px;transform:scaleX(0.8074);">FF</div>
<div class="t" style="left:208.0px;top:810.8px;font-size:15px;transform:scaleX(1.0771);">Attention</div>
<div class="t" style="left:305.4px;top:785.3px;font-size:17px;transform:scaleX(0.9514);">x 12</div>
<div class="t" style="left:92.7px;top:929.9px;font-size:15px;transform:scaleX(1.0133);">I would recommend this movie. This movie is ___</div>
<div class="t" style="left:1349.1px;top:737.9px;font-size:20px;transform:scaleX(0.9476);">Learn</div>
<div class="t" style="left:1154.9px;top:764.1px;font-size:15px;transform:scaleX(0.8074);">FF</div>
<div class="t" style="left:1129.7px;top:810.0px;font-size:15px;transform:scaleX(1.0900);">Attention</div>
<div class="t" style="left:1228.6px;top:784.0px;font-size:17px;transform:scaleX(0.9669);">x 12</div>
<div class="t" style="left:993.2px;top:929.2px;font-size:15px;transform:scaleX(1.0255);">I would recommend this movie. This movie is ___</div>
<svg style="left:520px;top:650px" width="440" height="290" viewBox="520 650 440 290"><rect x="599.3" y="674.9" width="338.2" height="188.6" fill="#fff"/><line x1="599.3" x2="937.5" y1="677.7" y2="677.7" stroke="#b8b8b8" stroke-width="1.1"/><line x1="599.3" x2="937.5" y1="688.4" y2="688.4" stroke="#cfcfcf" stroke-width="0.7" stroke-dasharray="1 1"/><line x1="599.3" x2="937.5" y1="699.1" y2="699.1" stroke="#cfcfcf" stroke-width="0.7" stroke-dasharray="1 1"/><line x1="599.3" x2="937.5" y1="709.7" y2="709.7" stroke="#cfcfcf" stroke-width="0.7" stroke-dasharray="1 1"/><line x1="599.3" x2="937.5" y1="720.4" y2="720.4" stroke="#cfcfcf" stroke-width="0.7" stroke-dasharray="1 1"/><line x1="599.3" x2="937.5" y1="731.1" y2="731.1" stroke="#b8b8b8" stroke-width="1.1"/><line x1="599.3" x2="937.5" y1="741.8" y2="741.8" stroke="#cfcfcf" stroke-width="0.7" stroke-dasharray="1 1"/><line x1="599.3" x2="937.5" y1="752.5" y2="752.5" stroke="#cfcfcf" stroke-width="0.7" stroke-dasharray="1 1"/><line x1="599.3" x2="937.5" y1="763.1" y2="763.1" stroke="#cfcfcf" stroke-width="0.7" stroke-dasharray="1 1"/><line x1="599.3" x2="937.5" y1="773.8" y2="773.8" stroke="#cfcfcf" stroke-width="0.7" stroke-dasharray="1 1"/><line x1="599.3" x2="937.5" y1="784.5" y2="784.5" stroke="#b8b8b8" stroke-width="1.1"/><line x1="599.3" x2="937.5" y1="795.2" y2="795.2" stroke="#cfcfcf" stroke-width="0.7" stroke-dasharray="1 1"/><line x1="599.3" x2="937.5" y1="805.9" y2="805.9" stroke="#cfcfcf" stroke-width="0.7" stroke-dasharray="1 1"/><line x1="599.3" x2="937.5" y1="816.6" y2="816.6" stroke="#cfcfcf" stroke-width="0.7" stroke-dasharray="1 1"/><line x1="599.3" x2="937.5" y1="827.2" y2="827.2" stroke="#cfcfcf" stroke-width="0.7" stroke-dasharray="1 1"/><line x1="599.3" x2="937.5" y1="837.9" y2="837.9" stroke="#b8b8b8" stroke-width="1.1"/><line x1="599.3" x2="937.5" y1="848.6" y2="848.6" stroke="#cfcfcf" stroke-width="0.7" stroke-dasharray="1 1"/><line x1="599.3" x2="937.5" y1="859.3" y2="859.3" stroke="#cfcfcf" stroke-width="0.7" stroke-dasharray="1 1"/><line x1="614.5" x2="614.5" y1="674.9" y2="863.5" stroke="#b8b8b8" stroke-width="0.9"/><line x1="614.5" x2="614.5" y1="863.5" y2="867.5" stroke="#222" stroke-width="0.9"/><line x1="690.6" x2="690.6" y1="674.9" y2="863.5" stroke="#b8b8b8" stroke-width="0.9"/><line x1="690.6" x2="690.6" y1="863.5" y2="867.5" stroke="#222" stroke-width="0.9"/><line x1="768.2" x2="768.2" y1="674.9" y2="863.5" stroke="#b8b8b8" stroke-width="0.9"/><line x1="768.2" x2="768.2" y1="863.5" y2="867.5" stroke="#222" stroke-width="0.9"/><line x1="844.6" x2="844.6" y1="674.9" y2="863.5" stroke="#b8b8b8" stroke-width="0.9"/><line x1="844.6" x2="844.6" y1="863.5" y2="867.5" stroke="#222" stroke-width="0.9"/><line x1="921.6" x2="921.6" y1="674.9" y2="863.5" stroke="#b8b8b8" stroke-width="0.9"/><line x1="921.6" x2="921.6" y1="863.5" y2="867.5" stroke="#222" stroke-width="0.9"/><line x1="595.3" x2="599.3" y1="677.7" y2="677.7" stroke="#222" stroke-width="0.8"/><line x1="596.8" x2="599.3" y1="688.4" y2="688.4" stroke="#222" stroke-width="0.8"/><line x1="596.8" x2="599.3" y1="699.1" y2="699.1" stroke="#222" stroke-width="0.8"/><line x1="596.8" x2="599.3" y1="709.7" y2="709.7" stroke="#222" stroke-width="0.8"/><line x1="596.8" x2="599.3" y1="720.4" y2="720.4" stroke="#222" stroke-width="0.8"/><line x1="595.3" x2="599.3" y1="731.1" y2="731.1" stroke="#222" stroke-width="0.8"/><line x1="596.8" x2="599.3" y1="741.8" y2="741.8" stroke="#222" stroke-width="0.8"/><line x1="596.8" x2="599.3" y1="752.5" y2="752.5" stroke="#222" stroke-width="0.8"/><line x1="596.8" x2="599.3" y1="763.1" y2="763.1" stroke="#222" stroke-width="0.8"/><line x1="596.8" x2="599.3" y1="773.8" y2="773.8" stroke="#222" stroke-width="0.8"/><line x1="595.3" x2="599.3" y1="784.5" y2="784.5" stroke="#222" stroke-width="0.8"/><line x1="596.8" x2="599.3" y1="795.2" y2="795.2" stroke="#222" stroke-width="0.8"/><line x1="596.8" x2="599.3" y1="805.9" y2="805.9" stroke="#222" stroke-width="0.8"/><line x1="596.8" x2="599.3" y1="816.6" y2="816.6" stroke="#222" stroke-width="0.8"/><line x1="596.8" x2="599.3" y1="827.2" y2="827.2" stroke="#222" stroke-width="0.8"/><line x1="595.3" x2="599.3" y1="837.9" y2="837.9" stroke="#222" stroke-width="0.8"/><line x1="596.8" x2="599.3" y1="848.6" y2="848.6" stroke="#222" stroke-width="0.8"/><line x1="596.8" x2="599.3" y1="859.3" y2="859.3" stroke="#222" stroke-width="0.8"/><polyline points="614.5,838.9 690.6,801.9 768.2,779.1 844.6,760.4 921.6,747.3" fill="none" stroke="#3f7fb6" stroke-width="1.6"/><path d="M614.5 829.6V848.3M611.5 829.6h6M611.5 848.3h6" stroke="#3f7fb6" stroke-width="1" fill="none"/><path d="M690.6 798.7V805.3M687.6 798.7h6M687.6 805.3h6" stroke="#3f7fb6" stroke-width="1" fill="none"/><path d="M768.2 773.1V784.3M765.2 773.1h6M765.2 784.3h6" stroke="#3f7fb6" stroke-width="1" fill="none"/><path d="M844.6 758.1V762.8M841.6 758.1h6M841.6 762.8h6" stroke="#3f7fb6" stroke-width="1" fill="none"/><path d="M921.6 745.8V748.8M918.6 745.8h6M918.6 748.8h6" stroke="#3f7fb6" stroke-width="1" fill="none"/><circle cx="614.5" cy="838.9" r="3.4" fill="#3f7fb6"/><circle cx="690.6" cy="801.9" r="3.4" fill="#3f7fb6"/><circle cx="768.2" cy="779.1" r="3.4" fill="#3f7fb6"/><circle cx="844.6" cy="760.4" r="3.4" fill="#3f7fb6"/><circle cx="921.6" cy="747.3" r="3.4" fill="#3f7fb6"/><polyline points="614.5,826.2 690.6,742.0 768.2,717.0 844.6,697.9 921.6,687.4" fill="none" stroke="#f28a30" stroke-width="1.6"/><path d="M614.5 798.7V854.3M611.5 798.7h6M611.5 854.3h6" stroke="#f28a30" stroke-width="1" fill="none"/><path d="M690.6 736.8V747.3M687.6 736.8h6M687.6 747.3h6" stroke="#f28a30" stroke-width="1" fill="none"/><path d="M768.2 713.6V720.3M765.2 713.6h6M765.2 720.3h6" stroke="#f28a30" stroke-width="1" fill="none"/><path d="M844.6 695.6V700.1M841.6 695.6h6M841.6 700.1h6" stroke="#f28a30" stroke-width="1" fill="none"/><path d="M921.6 683.3V691.5M918.6 683.3h6M918.6 691.5h6" stroke="#f28a30" stroke-width="1" fill="none"/><circle cx="614.5" cy="826.2" r="3.4" fill="#f28a30"/><circle cx="690.6" cy="742.0" r="3.4" fill="#f28a30"/><circle cx="768.2" cy="717.0" r="3.4" fill="#f28a30"/><circle cx="844.6" cy="697.9" r="3.4" fill="#f28a30"/><circle cx="921.6" cy="687.4" r="3.4" fill="#f28a30"/><rect x="599.3" y="674.9" width="338.2" height="188.6" fill="none" stroke="#333" stroke-width="1"/><rect x="835.8" y="792.5" width="91.7" height="61.4" rx="3" fill="#fff" fill-opacity="0.8" stroke="#d0d0d0" stroke-width="1"/><path d="M842.1 807.7H880.7M862.0 798.7V816.7M859.0 798.7h6M859.0 816.7h6" stroke="#3f7fb6" stroke-width="1.4" fill="none"/><circle cx="862.0" cy="807.7" r="3.4" fill="#3f7fb6"/><text x="896.0" y="813.7" font-size="17.6" fill="#000">HT</text><path d="M842.1 835.6H880.7M862.0 826.6V844.6M859.0 826.6h6M859.0 844.6h6" stroke="#f28a30" stroke-width="1.4" fill="none"/><circle cx="862.0" cy="835.6" r="3.4" fill="#f28a30"/><text x="896.0" y="841.6" font-size="17.6" fill="#000">FT</text><text x="587.7" y="684.0" font-size="17.6" text-anchor="end" fill="#000">90</text><text x="587.7" y="737.0" font-size="17.6" text-anchor="end" fill="#000">80</text><text x="587.7" y="790.7" font-size="17.6" text-anchor="end" fill="#000">70</text><text x="587.7" y="844.2" font-size="17.6" text-anchor="end" fill="#000">60</text><text x="614.5" y="887.2" font-size="17.6" text-anchor="middle" fill="#000">2<tspan dy="-7" font-size="12.3">5</tspan></text><text x="690.6" y="887.2" font-size="17.6" text-anchor="middle" fill="#000">2<tspan dy="-7" font-size="12.3">7</tspan></text><text x="768.2" y="887.2" font-size="17.6" text-anchor="middle" fill="#000">2<tspan dy="-7" font-size="12.3">9</tspan></text><text x="844.6" y="887.2" font-size="17.6" text-anchor="middle" fill="#000">2<tspan dy="-7" font-size="12.3">11</tspan></text><text x="921.6" y="887.2" font-size="17.6" text-anchor="middle" fill="#000">2<tspan dy="-7" font-size="12.3">13</tspan></text><text x="767.9" y="914.7" font-size="23.8" text-anchor="middle" fill="#000">#Samples</text><text transform="translate(555.5 770.1) rotate(-90)" font-size="23.8" text-anchor="middle" fill="#000">Accuracy</text><text x="619.1" y="706.1" font-size="12.8" font-weight="bold" fill="#000">QNLI</text></svg>
<svg style="left:220px;top:1760px" width="1040" height="350" viewBox="220 1760 1040 350"><defs><filter id="rough" x="-5%" y="-5%" width="110%" height="110%"><feTurbulence type="fractalNoise" baseFrequency="0.9" numOctaves="2" seed="3" result="n"/><feDisplacementMap in="SourceGraphic" in2="n" scale="4"/></filter><marker id="ah" markerWidth="8" markerHeight="8" refX="7" refY="4" orient="auto" markerUnits="userSpaceOnUse"><path d="M0 1L7.5 4L0 7Z" fill="#000"/></marker></defs><rect x="241.2" y="1888.7" width="269.3" height="185.3" fill="#D9E2F3" stroke="#8EA9DB" stroke-width="0.9" /><rect x="549.9" y="1888.7" width="268.8" height="185.3" fill="#FFFF66" stroke="#9a9a8a" stroke-width="0.9" /><path d="M655.6 1922.7 C658.1 1921.2 662.4 1920.1 666.6 1919.2 C670.8 1918.2 677.4 1916.6 680.8 1917.0 C684.1 1917.3 685.3 1919.2 686.5 1921.4 C687.7 1923.6 688.2 1927.3 687.8 1930.2 C687.5 1933.2 686.4 1937.1 684.3 1939.1 C682.2 1941.1 678.4 1941.7 675.4 1942.2 C672.5 1942.7 669.6 1941.2 666.6 1942.2 C663.7 1943.1 660.3 1946.1 657.8 1947.9 C655.2 1949.8 652.9 1953.2 651.1 1953.2 C649.4 1953.2 647.8 1950.7 647.2 1947.9 C646.5 1945.2 646.5 1940.2 647.2 1936.9 C647.8 1933.6 649.7 1930.4 651.1 1928.0 C652.5 1925.7 653.0 1924.2 655.6 1922.7 Z" fill="#D6C9B8" stroke="#E8322B" stroke-width="0.9"/><path d="M608.2 1986.4 C609.9 1985.2 614.1 1984.0 618.0 1983.7 C621.8 1983.5 627.2 1983.6 631.2 1984.6 C635.3 1985.7 639.5 1987.2 642.3 1989.9 C645.1 1992.7 647.5 1997.3 648.0 2001.0 C648.6 2004.7 647.1 2009.1 645.4 2012.0 C643.7 2015.0 640.6 2016.8 637.9 2018.7 C635.1 2020.5 632.0 2020.9 629.0 2023.1 C626.1 2025.3 622.4 2029.6 620.2 2031.9 C618.0 2034.3 616.9 2038.4 615.8 2037.2 C614.6 2036.1 613.5 2029.5 613.5 2025.3 C613.5 2021.1 615.0 2016.1 615.8 2012.0 C616.5 2008.0 618.0 2004.3 618.0 2001.0 C618.0 1997.7 617.4 1993.8 615.8 1992.1 C614.1 1990.5 609.5 1991.8 608.2 1990.8 C607.0 1989.9 606.6 1987.6 608.2 1986.4 Z" fill="#D6C9B8" stroke="#E8322B" stroke-width="0.9"/><path d="M721.9 1971.4 C725.0 1969.4 733.4 1966.9 738.2 1966.9 C743.0 1966.9 747.1 1969.7 750.6 1971.4 C754.2 1973.0 758.0 1973.9 759.5 1976.7 C760.9 1979.4 760.1 1984.0 759.5 1987.7 C758.9 1991.4 758.9 1996.8 755.9 1998.8 C753.0 2000.8 746.3 1999.3 741.8 1999.7 C737.2 2000.0 732.2 2000.4 728.5 2001.0 C724.8 2001.6 721.3 2005.0 719.7 2003.2 C718.0 2001.4 718.8 1994.0 718.8 1989.9 C718.8 1985.9 719.2 1982.0 719.7 1978.9 C720.2 1975.8 718.8 1973.4 721.9 1971.4 Z" fill="#D6C9B8" stroke="#E8322B" stroke-width="0.9"/><line x1="778.0" y1="1858.2" x2="682.5" y2="1914.8" stroke="#000" stroke-width="0.9" marker-end="url(#ah)"/><line x1="781.6" y1="1858.2" x2="645.4" y2="1992.1" stroke="#000" stroke-width="0.9" marker-end="url(#ah)"/><line x1="786.0" y1="1858.2" x2="738.7" y2="1961.6" stroke="#000" stroke-width="0.9" marker-end="url(#ah)"/><polygon points="831.5,1976.7 912.5,1976.7 912.5,1966.9 920.4,1985.1 912.5,2003.2 912.5,1993.5 831.5,1993.5" fill="#4472C4"/><rect x="936.3" y="1812.6" width="294.5" height="279.5" fill="none" stroke="#0a0a0a" stroke-width="6.4" filter="url(#rough)"/><rect x="948.3" y="1880.7" width="269.3" height="185.3" fill="#D9E2F3" stroke="#8EA9DB" stroke-width="0.9" /><path d="M1046.0 1910.3 C1050.1 1907.4 1059.3 1906.1 1064.6 1905.9 C1069.9 1905.8 1075.3 1907.2 1077.8 1909.5 C1080.4 1911.7 1080.2 1915.5 1080.0 1919.2 C1079.9 1922.9 1079.2 1930.1 1077.0 1931.6 C1074.7 1933.0 1070.3 1927.7 1066.8 1928.0 C1063.2 1928.3 1059.4 1931.1 1055.7 1933.3 C1052.0 1935.5 1047.3 1940.7 1044.7 1941.3 C1042.1 1941.9 1041.0 1939.8 1040.3 1936.9 C1039.5 1933.9 1039.3 1928.0 1040.3 1923.6 C1041.2 1919.2 1041.9 1913.3 1046.0 1910.3 Z" fill="#FFF94F"/><path d="M1000.5 1975.8 C1003.0 1974.6 1010.8 1972.8 1015.9 1973.1 C1021.1 1973.4 1027.4 1975.1 1031.4 1977.6 C1035.5 1980.0 1039.1 1983.8 1040.3 1987.7 C1041.4 1991.6 1039.9 1997.7 1038.0 2001.0 C1036.2 2004.3 1032.3 2005.4 1029.2 2007.6 C1026.1 2009.8 1022.4 2011.5 1019.5 2014.3 C1016.5 2017.1 1013.4 2024.1 1011.5 2024.4 C1009.6 2024.8 1008.3 2020.4 1008.0 2016.5 C1007.6 2012.6 1008.9 2005.8 1009.3 2001.0 C1009.7 1996.2 1010.8 1991.0 1010.6 1987.7 C1010.4 1984.4 1009.7 1982.3 1008.0 1981.1 C1006.3 1979.8 1001.7 1981.1 1000.5 1980.2 C999.2 1979.3 997.9 1977.0 1000.5 1975.8 Z" fill="#FFF94F"/><path d="M1115.4 1961.2 C1118.4 1959.2 1126.1 1955.9 1130.9 1955.9 C1135.7 1955.9 1140.5 1959.4 1144.2 1961.2 C1147.9 1963.0 1151.7 1964.0 1153.0 1966.9 C1154.3 1969.9 1152.9 1975.4 1152.1 1978.9 C1151.4 1982.3 1151.8 1986.1 1148.6 1987.7 C1145.4 1989.3 1137.9 1988.2 1133.1 1988.6 C1128.3 1989.0 1123.3 1989.3 1119.8 1989.9 C1116.4 1990.5 1113.6 1994.0 1112.3 1992.1 C1111.1 1990.3 1112.2 1982.9 1112.3 1978.9 C1112.5 1974.8 1112.7 1970.8 1113.2 1967.8 C1113.7 1964.9 1112.5 1963.2 1115.4 1961.2 Z" fill="#FFF94F"/><line x1="1063.7" x2="1093.8" y1="1830.7" y2="1830.7" stroke="#000" stroke-width="1.2"/></svg>
<div class="t m" style="left:373.9px;top:1825.1px;font-size:37px;transform:scaleX(1.0519);">&theta;<sub style="font-size:.62em">pre</sub></div>
<div class="t m" style="left:659.1px;top:1822.9px;font-size:37px;">&theta;<sub style="font-size:.62em">ft</sub></div>
<div class="t m" style="left:1064.6px;top:1828.2px;font-size:37px;">&theta;<sub style="font-size:.62em">ft</sub></div>
<div class="t bd" style="left:721.0px;top:1825.4px;font-size:28px;transform:scaleX(1.0434);">Binary mask <span class="m" style="font-weight:normal">&gamma;</span></div>
<div class="t bd" style="left:978.8px;top:1773.3px;font-size:28px;transform:scaleX(1.1052);">Grafted Model</div>
<svg style="left:1590px;top:1890px" width="460" height="340" viewBox="1590 1890 460 340"><rect x="1658.5" y="1910.0" width="352.9" height="252.4" fill="#fff"/><path d="M1658.5 1926.3H2011.4M1658.5 1938.4H2011.4M1658.5 1950.5H2011.4M1658.5 1962.5H2011.4M1658.5 1986.6H2011.4M1658.5 1998.7H2011.4M1658.5 2010.8H2011.4M1658.5 2022.8H2011.4M1658.5 2046.9H2011.4M1658.5 2059.0H2011.4M1658.5 2071.0H2011.4M1658.5 2083.1H2011.4M1658.5 2107.2H2011.4M1658.5 2119.3H2011.4M1658.5 2131.3H2011.4M1658.5 2143.4H2011.4" stroke="#c4c4c4" stroke-width="0.8" stroke-dasharray="0.9 1.5" fill="none"/><path d="M1658.5 1914.3H2011.4M1658.5 1974.4H2011.4M1658.5 2034.4H2011.4M1658.5 2095.2H2011.4" stroke="#b4b4b4" stroke-width="1.0" fill="none"/><path d="M1674.4 1910.0V2162.4M1724.5 1910.0V2162.4M1769.6 1910.0V2162.4M1814.7 1910.0V2162.4M1859.6 1910.0V2162.4M1904.7 1910.0V2162.4M1949.8 1910.0V2162.4M1994.7 1910.0V2162.4" stroke="#b4b4b4" stroke-width="1.0" fill="none"/><path d="M1655.9 1926.3H1658.5M1655.9 1938.4H1658.5M1655.9 1950.5H1658.5M1655.9 1962.5H1658.5M1655.9 1986.6H1658.5M1655.9 1998.7H1658.5M1655.9 2010.8H1658.5M1655.9 2022.8H1658.5M1655.9 2046.9H1658.5M1655.9 2059.0H1658.5M1655.9 2071.0H1658.5M1655.9 2083.1H1658.5M1655.9 2107.2H1658.5M1655.9 2119.3H1658.5M1655.9 2131.3H1658.5M1655.9 2143.4H1658.5" stroke="#222" stroke-width="0.8" fill="none"/><path d="M1654.0 1914.3H1658.5M1654.0 1974.4H1658.5M1654.0 2034.4H1658.5M1654.0 2095.2H1658.5" stroke="#222" stroke-width="1.0" fill="none"/><path d="M1674.4 2162.4V2166.9M1724.5 2162.4V2166.9M1769.6 2162.4V2166.9M1814.7 2162.4V2166.9M1859.6 2162.4V2166.9M1904.7 2162.4V2166.9M1949.8 2162.4V2166.9M1994.7 2162.4V2166.9" stroke="#222" stroke-width="1.0" fill="none"/><polyline points="1674.4,2151.3 1800.2,1938.8 1814.7,1927.5 1859.6,1925.8 1904.7,1925.4 1949.8,1926.4 1994.7,1926.9" fill="none" stroke="#d62728" stroke-width="1.5" stroke-linejoin="round"/><path d="M1800.2 1932.7V1944.9M1797.2 1932.7h6M1797.2 1944.9h6M1814.7 1922.5V1932.9M1811.7 1922.5h6M1811.7 1932.9h6M1859.6 1922.5V1929.0M1856.6 1922.5h6M1856.6 1929.0h6M1904.7 1922.5V1928.6M1901.7 1922.5h6M1901.7 1928.6h6M1949.8 1923.6V1929.0M1946.8 1923.6h6M1946.8 1929.0h6M1994.7 1924.7V1929.0M1991.7 1924.7h6M1991.7 1929.0h6" stroke="#d62728" stroke-width="1.3" fill="none"/><circle cx="1674.4" cy="2151.3" r="3.4" fill="#d62728"/><circle cx="1800.2" cy="1938.8" r="3.4" fill="#d62728"/><circle cx="1814.7" cy="1927.5" r="3.4" fill="#d62728"/><circle cx="1859.6" cy="1925.8" r="3.4" fill="#d62728"/><circle cx="1904.7" cy="1925.4" r="3.4" fill="#d62728"/><circle cx="1949.8" cy="1926.4" r="3.4" fill="#d62728"/><circle cx="1994.7" cy="1926.9" r="3.4" fill="#d62728"/><polyline points="1674.4,2151.3 1809.5,2076.7 1824.7,2075.4 1861.1,2068.5 1904.7,2030.3 1949.8,1937.3 1994.7,1928.0" fill="none" stroke="#1f77b4" stroke-width="1.5" stroke-linejoin="round"/><path d="M1809.5 2061.3V2092.8M1806.5 2061.3h6M1806.5 2092.8h6M1824.7 2060.7V2090.2M1821.7 2060.7h6M1821.7 2090.2h6M1861.1 2052.2V2084.1M1858.1 2052.2h6M1858.1 2084.1h6M1904.7 2014.5V2045.5M1901.7 2014.5h6M1901.7 2045.5h6M1949.8 1934.5V1939.9M1946.8 1934.5h6M1946.8 1939.9h6M1994.7 1922.5V1933.4M1991.7 1922.5h6M1991.7 1933.4h6" stroke="#1f77b4" stroke-width="1.3" fill="none"/><circle cx="1674.4" cy="2151.3" r="3.4" fill="#1f77b4"/><circle cx="1809.5" cy="2076.7" r="3.4" fill="#1f77b4"/><circle cx="1824.7" cy="2075.4" r="3.4" fill="#1f77b4"/><circle cx="1861.1" cy="2068.5" r="3.4" fill="#1f77b4"/><circle cx="1904.7" cy="2030.3" r="3.4" fill="#1f77b4"/><circle cx="1949.8" cy="1937.3" r="3.4" fill="#1f77b4"/><circle cx="1994.7" cy="1928.0" r="3.4" fill="#1f77b4"/><polyline points="1674.4,2151.3 1807.5,1946.8 1822.5,1949.6 1859.6,1938.6 1904.7,1935.3 1949.8,1932.3 1994.7,1926.4" fill="none" stroke="#2ca02c" stroke-width="1.5" stroke-linejoin="round"/><path d="M1807.5 1943.1V1950.7M1804.5 1943.1h6M1804.5 1950.7h6M1822.5 1942.1V1957.2M1819.5 1942.1h6M1819.5 1957.2h6M1859.6 1936.6V1940.5M1856.6 1936.6h6M1856.6 1940.5h6M1904.7 1933.4V1937.3M1901.7 1933.4h6M1901.7 1937.3h6M1949.8 1930.1V1934.5M1946.8 1930.1h6M1946.8 1934.5h6M1994.7 1921.4V1931.2M1991.7 1921.4h6M1991.7 1931.2h6" stroke="#2ca02c" stroke-width="1.3" fill="none"/><circle cx="1674.4" cy="2151.3" r="3.4" fill="#2ca02c"/><circle cx="1807.5" cy="1946.8" r="3.4" fill="#2ca02c"/><circle cx="1822.5" cy="1949.6" r="3.4" fill="#2ca02c"/><circle cx="1859.6" cy="1938.6" r="3.4" fill="#2ca02c"/><circle cx="1904.7" cy="1935.3" r="3.4" fill="#2ca02c"/><circle cx="1949.8" cy="1932.3" r="3.4" fill="#2ca02c"/><circle cx="1994.7" cy="1926.4" r="3.4" fill="#2ca02c"/><rect x="1658.5" y="1910.0" width="352.9" height="252.4" fill="none" stroke="#222" stroke-width="1.1"/><rect x="1852.9" y="2076.5" width="175.7" height="86.3" rx="3.5" fill="#fff" fill-opacity="0.8" stroke="#cfcfcf" stroke-width="1"/><path d="M1858.9 2091.3H1896.9" stroke="#d62728" stroke-width="1.5" fill="none"/><path d="M1877.9 2082.3V2100.3M1874.9 2082.3h6M1874.9 2100.3h6" stroke="#d62728" stroke-width="1.3" fill="none"/><circle cx="1877.9" cy="2091.3" r="3.4" fill="#d62728"/><text x="1912.1" y="2097.9" font-size="18.5" fill="#000">AdamW (<tspan font-style="italic">&#8467;</tspan><tspan dy="4" font-size="13">1</tspan><tspan dy="-4">)</tspan></text><path d="M1858.9 2118.4H1896.9" stroke="#1f77b4" stroke-width="1.5" fill="none"/><path d="M1877.9 2109.4V2127.4M1874.9 2109.4h6M1874.9 2127.4h6" stroke="#1f77b4" stroke-width="1.3" fill="none"/><circle cx="1877.9" cy="2118.4" r="3.4" fill="#1f77b4"/><text x="1912.1" y="2125.0" font-size="18.5" fill="#000">AdamW</text><path d="M1858.9 2145.5H1896.9" stroke="#2ca02c" stroke-width="1.5" fill="none"/><path d="M1877.9 2136.5V2154.5M1874.9 2136.5h6M1874.9 2154.5h6" stroke="#2ca02c" stroke-width="1.3" fill="none"/><circle cx="1877.9" cy="2145.5" r="3.4" fill="#2ca02c"/><text x="1912.1" y="2152.1" font-size="18.5" fill="#000">SGD</text><text x="1652.9" y="1921.4" font-size="19.8" text-anchor="end" fill="#000">90</text><text x="1652.9" y="1981.5" font-size="19.8" text-anchor="end" fill="#000">80</text><text x="1652.9" y="2041.6" font-size="19.8" text-anchor="end" fill="#000">70</text><text x="1652.9" y="2102.3" font-size="19.8" text-anchor="end" fill="#000">60</text><text x="1674.4" y="2181.7" font-size="19.8" text-anchor="middle" fill="#000">0</text><text x="1724.5" y="2181.7" font-size="19.8" text-anchor="middle" fill="#000">10<tspan dy="-8.3" font-size="13.1">&minus;6</tspan></text><text x="1769.6" y="2181.7" font-size="19.8" text-anchor="middle" fill="#000">10<tspan dy="-8.3" font-size="13.1">&minus;5</tspan></text><text x="1814.7" y="2181.7" font-size="19.8" text-anchor="middle" fill="#000">10<tspan dy="-8.3" font-size="13.1">&minus;4</tspan></text><text x="1859.6" y="2181.7" font-size="19.8" text-anchor="middle" fill="#000">10<tspan dy="-8.3" font-size="13.1">&minus;3</tspan></text><text x="1904.7" y="2181.7" font-size="19.8" text-anchor="middle" fill="#000">10<tspan dy="-8.3" font-size="13.1">&minus;2</tspan></text><text x="1949.8" y="2181.7" font-size="19.8" text-anchor="middle" fill="#000">10<tspan dy="-8.3" font-size="13.1">&minus;1</tspan></text><text x="1994.7" y="2181.7" font-size="19.8" text-anchor="middle" fill="#000">10<tspan dy="-8.3" font-size="13.1">0</tspan></text><text x="1834.6" y="2207.7" font-size="24.2" text-anchor="middle" fill="#000" >Sparsity Level</text><text transform="translate(1620.8 2035.7) rotate(-90)" font-size="24.2" text-anchor="middle" fill="#000" >Accuracy</text></svg>
<svg style="left:2280px;top:1890px" width="460" height="340" viewBox="2280 1890 460 340"><rect x="2346.6" y="1906.3" width="339.2" height="257.0" fill="#fff"/><path d="M2346.6 1913.1H2685.8M2346.6 1934.2H2685.8M2346.6 1944.7H2685.8M2346.6 1955.2H2685.8M2346.6 1965.8H2685.8M2346.6 1986.9H2685.8M2346.6 1997.4H2685.8M2346.6 2007.9H2685.8M2346.6 2018.5H2685.8M2346.6 2039.6H2685.8M2346.6 2050.1H2685.8M2346.6 2060.6H2685.8M2346.6 2071.2H2685.8M2346.6 2092.3H2685.8M2346.6 2102.8H2685.8M2346.6 2113.3H2685.8M2346.6 2123.9H2685.8M2346.6 2145.0H2685.8M2346.6 2155.5H2685.8" stroke="#c4c4c4" stroke-width="0.8" stroke-dasharray="0.9 1.5" fill="none"/><path d="M2346.6 1923.6H2685.8M2346.6 1976.3H2685.8M2346.6 2028.8H2685.8M2346.6 2081.5H2685.8M2346.6 2134.4H2685.8" stroke="#b4b4b4" stroke-width="1.0" fill="none"/><path d="M2362.2 1906.3V2163.3M2429.4 1906.3V2163.3M2489.5 1906.3V2163.3M2549.6 1906.3V2163.3M2609.7 1906.3V2163.3M2669.9 1906.3V2163.3" stroke="#b4b4b4" stroke-width="1.0" fill="none"/><path d="M2344.0 1913.1H2346.6M2344.0 1934.2H2346.6M2344.0 1944.7H2346.6M2344.0 1955.2H2346.6M2344.0 1965.8H2346.6M2344.0 1986.9H2346.6M2344.0 1997.4H2346.6M2344.0 2007.9H2346.6M2344.0 2018.5H2346.6M2344.0 2039.6H2346.6M2344.0 2050.1H2346.6M2344.0 2060.6H2346.6M2344.0 2071.2H2346.6M2344.0 2092.3H2346.6M2344.0 2102.8H2346.6M2344.0 2113.3H2346.6M2344.0 2123.9H2346.6M2344.0 2145.0H2346.6M2344.0 2155.5H2346.6" stroke="#222" stroke-width="0.8" fill="none"/><path d="M2342.1 1923.6H2346.6M2342.1 1976.3H2346.6M2342.1 2028.8H2346.6M2342.1 2081.5H2346.6M2342.1 2134.4H2346.6" stroke="#222" stroke-width="1.0" fill="none"/><path d="M2362.2 2163.3V2167.8M2429.4 2163.3V2167.8M2489.5 2163.3V2167.8M2549.6 2163.3V2167.8M2609.7 2163.3V2167.8M2669.9 2163.3V2167.8" stroke="#222" stroke-width="1.0" fill="none"/><polyline points="2362.2,2131.2 2429.4,2107.5 2489.5,2010.6 2549.6,1989.8 2609.7,1949.2 2669.9,1933.8" fill="none" stroke="#1f77b4" stroke-width="1.5" stroke-linejoin="round"/><path d="M2429.4 2063.5V2151.8M2426.4 2063.5h6M2426.4 2151.8h6M2489.5 1948.1V2073.5M2486.5 1948.1h6M2486.5 2073.5h6M2549.6 1918.2V2061.3M2546.6 1918.2h6M2546.6 2061.3h6M2609.7 1929.5V1969.4M2606.7 1929.5h6M2606.7 1969.4h6" stroke="#1f77b4" stroke-width="1.3" fill="none"/><circle cx="2362.2" cy="2131.2" r="3.4" fill="#1f77b4"/><circle cx="2429.4" cy="2107.5" r="3.4" fill="#1f77b4"/><circle cx="2489.5" cy="2010.6" r="3.4" fill="#1f77b4"/><circle cx="2549.6" cy="1989.8" r="3.4" fill="#1f77b4"/><circle cx="2609.7" cy="1949.2" r="3.4" fill="#1f77b4"/><circle cx="2669.9" cy="1933.8" r="3.4" fill="#1f77b4"/><polyline points="2362.2,2131.2 2408.6,1951.4 2429.4,1950.9 2439.6,1954.4 2472.2,1946.0 2489.5,1944.2 2531.6,1943.4 2549.6,1941.4 2591.7,1940.3 2609.7,1939.0 2669.9,1933.8" fill="none" stroke="#ff7f0e" stroke-width="1.5" stroke-linejoin="round"/><path d="M2408.6 1948.6V1954.2M2405.6 1948.6h6M2405.6 1954.2h6M2429.4 1948.1V1953.8M2426.4 1948.1h6M2426.4 1953.8h6M2439.6 1947.5V1961.6M2436.6 1947.5h6M2436.6 1961.6h6M2472.2 1943.6V1948.3M2469.2 1943.6h6M2469.2 1948.3h6M2489.5 1942.1V1946.8M2486.5 1942.1h6M2486.5 1946.8h6M2531.6 1940.3V1946.4M2528.6 1940.3h6M2528.6 1946.4h6M2549.6 1938.8V1944.2M2546.6 1938.8h6M2546.6 1944.2h6M2591.7 1937.1V1943.8M2588.7 1937.1h6M2588.7 1943.8h6M2609.7 1934.7V1943.4M2606.7 1934.7h6M2606.7 1943.4h6M2669.9 1931.2V1936.4M2666.9 1931.2h6M2666.9 1936.4h6" stroke="#ff7f0e" stroke-width="1.3" fill="none"/><circle cx="2362.2" cy="2131.2" r="3.4" fill="#ff7f0e"/><circle cx="2408.6" cy="1951.4" r="3.4" fill="#ff7f0e"/><circle cx="2429.4" cy="1950.9" r="3.4" fill="#ff7f0e"/><circle cx="2439.6" cy="1954.4" r="3.4" fill="#ff7f0e"/><circle cx="2472.2" cy="1946.0" r="3.4" fill="#ff7f0e"/><circle cx="2489.5" cy="1944.2" r="3.4" fill="#ff7f0e"/><circle cx="2531.6" cy="1943.4" r="3.4" fill="#ff7f0e"/><circle cx="2549.6" cy="1941.4" r="3.4" fill="#ff7f0e"/><circle cx="2591.7" cy="1940.3" r="3.4" fill="#ff7f0e"/><circle cx="2609.7" cy="1939.0" r="3.4" fill="#ff7f0e"/><circle cx="2669.9" cy="1933.8" r="3.4" fill="#ff7f0e"/><polyline points="2362.2,2131.2 2368.9,2131.4 2429.4,2131.0 2489.5,2131.0 2549.6,2131.0 2609.7,2126.8 2651.9,1996.7 2669.9,1933.8" fill="none" stroke="#2ca02c" stroke-width="1.5" stroke-linejoin="round"/><path d="M2609.7 2122.1V2131.8M2606.7 2122.1h6M2606.7 2131.8h6M2651.9 1966.3V2026.6M2648.9 1966.3h6M2648.9 2026.6h6M2669.9 1929.0V1938.1M2666.9 1929.0h6M2666.9 1938.1h6" stroke="#2ca02c" stroke-width="1.3" fill="none"/><circle cx="2362.2" cy="2131.2" r="3.4" fill="#2ca02c"/><circle cx="2368.9" cy="2131.4" r="3.4" fill="#2ca02c"/><circle cx="2429.4" cy="2131.0" r="3.4" fill="#2ca02c"/><circle cx="2489.5" cy="2131.0" r="3.4" fill="#2ca02c"/><circle cx="2549.6" cy="2131.0" r="3.4" fill="#2ca02c"/><circle cx="2609.7" cy="2126.8" r="3.4" fill="#2ca02c"/><circle cx="2651.9" cy="1996.7" r="3.4" fill="#2ca02c"/><circle cx="2669.9" cy="1933.8" r="3.4" fill="#2ca02c"/><rect x="2346.6" y="1906.3" width="339.2" height="257.0" fill="none" stroke="#222" stroke-width="1.1"/><rect x="2582.5" y="2070.4" width="137.7" height="83.5" rx="3.5" fill="#fff" fill-opacity="0.8" stroke="#cfcfcf" stroke-width="1"/><path d="M2589.7 2084.5H2625.7" stroke="#1f77b4" stroke-width="1.5" fill="none"/><path d="M2607.7 2075.5V2093.5M2604.7 2075.5h6M2604.7 2093.5h6" stroke="#1f77b4" stroke-width="1.3" fill="none"/><circle cx="2607.7" cy="2084.5" r="3.4" fill="#1f77b4"/><text x="2640.0" y="2091.0" font-size="17.9" fill="#000">top-<tspan font-style="italic">s</tspan></text><path d="M2589.7 2110.8H2625.7" stroke="#ff7f0e" stroke-width="1.5" fill="none"/><path d="M2607.7 2101.8V2119.8M2604.7 2101.8h6M2604.7 2119.8h6" stroke="#ff7f0e" stroke-width="1.3" fill="none"/><circle cx="2607.7" cy="2110.8" r="3.4" fill="#ff7f0e"/><text x="2640.0" y="2117.2" font-size="17.9" fill="#000">Grafting</text><path d="M2589.7 2137.0H2625.7" stroke="#2ca02c" stroke-width="1.5" fill="none"/><path d="M2607.7 2128.0V2146.0M2604.7 2128.0h6M2604.7 2146.0h6" stroke="#2ca02c" stroke-width="1.3" fill="none"/><circle cx="2607.7" cy="2137.0" r="3.4" fill="#2ca02c"/><text x="2640.0" y="2143.5" font-size="17.9" fill="#000">Random</text><text x="2339.6" y="1930.7" font-size="19.8" text-anchor="end" fill="#000">90</text><text x="2339.6" y="1983.4" font-size="19.8" text-anchor="end" fill="#000">80</text><text x="2339.6" y="2035.9" font-size="19.8" text-anchor="end" fill="#000">70</text><text x="2339.6" y="2088.6" font-size="19.8" text-anchor="end" fill="#000">60</text><text x="2339.6" y="2141.5" font-size="19.8" text-anchor="end" fill="#000">50</text><text x="2362.2" y="2181.7" font-size="19.8" text-anchor="middle" fill="#000">0</text><text x="2429.4" y="2181.7" font-size="19.8" text-anchor="middle" fill="#000">10<tspan dy="-8.3" font-size="13.1">&minus;4</tspan></text><text x="2489.5" y="2181.7" font-size="19.8" text-anchor="middle" fill="#000">10<tspan dy="-8.3" font-size="13.1">&minus;3</tspan></text><text x="2549.6" y="2181.7" font-size="19.8" text-anchor="middle" fill="#000">10<tspan dy="-8.3" font-size="13.1">&minus;2</tspan></text><text x="2609.7" y="2181.7" font-size="19.8" text-anchor="middle" fill="#000">10<tspan dy="-8.3" font-size="13.1">&minus;1</tspan></text><text x="2669.9" y="2181.7" font-size="19.8" text-anchor="middle" fill="#000">10<tspan dy="-8.3" font-size="13.1">0</tspan></text><text x="2516.0" y="2207.7" font-size="24.2" text-anchor="middle" fill="#000" >Sparsity Level</text><text transform="translate(2309.3 2034.2) rotate(-90)" font-size="24.2" text-anchor="middle" fill="#000" >Accuracy</text></svg>
<svg style="left:1590px;top:2400px" width="460" height="340" viewBox="1590 2400 460 340"><rect x="1649.6" y="2433.6" width="376.9" height="233.8" fill="#fff"/><path d="M1649.6 2650.2H2026.6M1649.6 2636.9H2026.6M1649.6 2623.6H2026.6M1649.6 2610.2H2026.6M1649.6 2583.6H2026.6M1649.6 2570.3H2026.6M1649.6 2557.0H2026.6M1649.6 2543.7H2026.6M1649.6 2517.0H2026.6M1649.6 2503.7H2026.6M1649.6 2490.4H2026.6M1649.6 2477.1H2026.6M1649.6 2450.4H2026.6M1649.6 2437.1H2026.6" stroke="#c4c4c4" stroke-width="0.8" stroke-dasharray="0.9 1.5" fill="none"/><path d="M1664.7 2433.6V2667.4M1679.7 2433.6V2667.4M1694.7 2433.6V2667.4M1724.8 2433.6V2667.4M1739.8 2433.6V2667.4M1754.8 2433.6V2667.4M1784.9 2433.6V2667.4M1799.9 2433.6V2667.4M1815.0 2433.6V2667.4M1845.0 2433.6V2667.4M1860.1 2433.6V2667.4M1875.1 2433.6V2667.4M1905.1 2433.6V2667.4M1920.2 2433.6V2667.4M1935.2 2433.6V2667.4M1965.3 2433.6V2667.4M1980.3 2433.6V2667.4M1995.3 2433.6V2667.4M2025.4 2433.6V2667.4" stroke="#c4c4c4" stroke-width="0.8" stroke-dasharray="0.9 1.5" fill="none"/><path d="M1649.6 2463.5H2026.6M1649.6 2530.3H2026.6M1649.6 2596.7H2026.6M1649.6 2663.5H2026.6" stroke="#b4b4b4" stroke-width="1.0" fill="none"/><path d="M1709.8 2433.6V2667.4M1769.9 2433.6V2667.4M1830.0 2433.6V2667.4M1890.1 2433.6V2667.4M1950.2 2433.6V2667.4M2010.4 2433.6V2667.4" stroke="#b4b4b4" stroke-width="1.0" fill="none"/><path d="M1647.0 2650.2H1649.6M1647.0 2636.9H1649.6M1647.0 2623.6H1649.6M1647.0 2610.2H1649.6M1647.0 2583.6H1649.6M1647.0 2570.3H1649.6M1647.0 2557.0H1649.6M1647.0 2543.7H1649.6M1647.0 2517.0H1649.6M1647.0 2503.7H1649.6M1647.0 2490.4H1649.6M1647.0 2477.1H1649.6M1647.0 2450.4H1649.6M1647.0 2437.1H1649.6" stroke="#222" stroke-width="0.8" fill="none"/><path d="M1645.1 2463.5H1649.6M1645.1 2530.3H1649.6M1645.1 2596.7H1649.6M1645.1 2663.5H1649.6" stroke="#222" stroke-width="1.0" fill="none"/><path d="M1649.6 2667.4V2671.9M1709.8 2667.4V2671.9M1769.9 2667.4V2671.9M1830.0 2667.4V2671.9M1890.1 2667.4V2671.9M1950.2 2667.4V2671.9M2010.4 2667.4V2671.9" stroke="#222" stroke-width="1.0" fill="none"/><path d="M1664.7 2667.4V2670.0M1679.7 2667.4V2670.0M1694.7 2667.4V2670.0M1724.8 2667.4V2670.0M1739.8 2667.4V2670.0M1754.8 2667.4V2670.0M1784.9 2667.4V2670.0M1799.9 2667.4V2670.0M1815.0 2667.4V2670.0M1845.0 2667.4V2670.0M1860.1 2667.4V2670.0M1875.1 2667.4V2670.0M1905.1 2667.4V2670.0M1920.2 2667.4V2670.0M1935.2 2667.4V2670.0M1965.3 2667.4V2670.0M1980.3 2667.4V2670.0M1995.3 2667.4V2670.0M2025.4 2667.4V2670.0" stroke="#222" stroke-width="0.8" fill="none"/><polyline points="1679.6,2605.6 1709.6,2581.3 1739.7,2552.5 1769.7,2538.2 1799.8,2538.4 1829.9,2537.3 1859.9,2552.9 1890.0,2565.3 1920.0,2560.5 1950.1,2548.8 1980.2,2547.5 2010.2,2497.4" fill="none" stroke="#1f77b4" stroke-width="1.5" stroke-linejoin="round"/><path d="M1679.6 2566.3V2644.9M1676.6 2566.3h6M1676.6 2644.9h6M1709.6 2556.4V2606.3M1706.6 2556.4h6M1706.6 2606.3h6M1739.7 2547.5V2557.2M1736.7 2547.5h6M1736.7 2557.2h6M1769.7 2529.5V2547.5M1766.7 2529.5h6M1766.7 2547.5h6M1799.8 2529.5V2547.5M1796.8 2529.5h6M1796.8 2547.5h6M1829.9 2521.5V2554.4M1826.9 2521.5h6M1826.9 2554.4h6M1859.9 2523.6V2582.6M1856.9 2523.6h6M1856.9 2582.6h6M1890.0 2558.3V2572.4M1887.0 2558.3h6M1887.0 2572.4h6M1920.0 2552.9V2568.1M1917.0 2552.9h6M1917.0 2568.1h6M1950.1 2537.3V2560.5M1947.1 2537.3h6M1947.1 2560.5h6M1980.2 2541.0V2554.0M1977.2 2541.0h6M1977.2 2554.0h6M2010.2 2484.4V2510.6M2007.2 2484.4h6M2007.2 2510.6h6" stroke="#1f77b4" stroke-width="1.3" fill="none"/><circle cx="1679.6" cy="2605.6" r="3.4" fill="#1f77b4"/><circle cx="1709.6" cy="2581.3" r="3.4" fill="#1f77b4"/><circle cx="1739.7" cy="2552.5" r="3.4" fill="#1f77b4"/><circle cx="1769.7" cy="2538.2" r="3.4" fill="#1f77b4"/><circle cx="1799.8" cy="2538.4" r="3.4" fill="#1f77b4"/><circle cx="1829.9" cy="2537.3" r="3.4" fill="#1f77b4"/><circle cx="1859.9" cy="2552.9" r="3.4" fill="#1f77b4"/><circle cx="1890.0" cy="2565.3" r="3.4" fill="#1f77b4"/><circle cx="1920.0" cy="2560.5" r="3.4" fill="#1f77b4"/><circle cx="1950.1" cy="2548.8" r="3.4" fill="#1f77b4"/><circle cx="1980.2" cy="2547.5" r="3.4" fill="#1f77b4"/><circle cx="2010.2" cy="2497.4" r="3.4" fill="#1f77b4"/><polyline points="1679.6,2620.1 1709.6,2549.0 1739.7,2513.2 1769.7,2503.0 1799.8,2485.7 1829.9,2483.1 1859.9,2521.9 1890.0,2538.2 1920.0,2572.9 1950.1,2584.8 1980.2,2623.4 2010.2,2629.9" fill="none" stroke="#ff7f0e" stroke-width="1.5" stroke-linejoin="round"/><path d="M1679.6 2609.3V2631.0M1676.6 2609.3h6M1676.6 2631.0h6M1709.6 2540.5V2557.7M1706.6 2540.5h6M1706.6 2557.7h6M1739.7 2499.3V2527.1M1736.7 2499.3h6M1736.7 2527.1h6M1769.7 2491.1V2514.9M1766.7 2491.1h6M1766.7 2514.9h6M1799.8 2480.2V2491.1M1796.8 2480.2h6M1796.8 2491.1h6M1829.9 2475.9V2490.0M1826.9 2475.9h6M1826.9 2490.0h6M1859.9 2513.9V2530.1M1856.9 2513.9h6M1856.9 2530.1h6M1890.0 2530.1V2546.4M1887.0 2530.1h6M1887.0 2546.4h6M1920.0 2565.9V2580.0M1917.0 2565.9h6M1917.0 2580.0h6M1950.1 2577.8V2591.9M1947.1 2577.8h6M1947.1 2591.9h6M1980.2 2619.5V2627.3M1977.2 2619.5h6M1977.2 2627.3h6M2010.2 2621.2V2639.2M2007.2 2621.2h6M2007.2 2639.2h6" stroke="#ff7f0e" stroke-width="1.3" fill="none"/><circle cx="1679.6" cy="2620.1" r="3.4" fill="#ff7f0e"/><circle cx="1709.6" cy="2549.0" r="3.4" fill="#ff7f0e"/><circle cx="1739.7" cy="2513.2" r="3.4" fill="#ff7f0e"/><circle cx="1769.7" cy="2503.0" r="3.4" fill="#ff7f0e"/><circle cx="1799.8" cy="2485.7" r="3.4" fill="#ff7f0e"/><circle cx="1829.9" cy="2483.1" r="3.4" fill="#ff7f0e"/><circle cx="1859.9" cy="2521.9" r="3.4" fill="#ff7f0e"/><circle cx="1890.0" cy="2538.2" r="3.4" fill="#ff7f0e"/><circle cx="1920.0" cy="2572.9" r="3.4" fill="#ff7f0e"/><circle cx="1950.1" cy="2584.8" r="3.4" fill="#ff7f0e"/><circle cx="1980.2" cy="2623.4" r="3.4" fill="#ff7f0e"/><circle cx="2010.2" cy="2629.9" r="3.4" fill="#ff7f0e"/><polyline points="1679.6,2632.1 1709.6,2589.8 1739.7,2542.5 1769.7,2507.4 1799.8,2479.2 1829.9,2466.6 1859.9,2517.5 1890.0,2534.5 1920.0,2572.9 1950.1,2589.6 1980.2,2603.9 2010.2,2591.3" fill="none" stroke="#2ca02c" stroke-width="1.5" stroke-linejoin="round"/><path d="M1679.6 2611.5V2652.7M1676.6 2611.5h6M1676.6 2652.7h6M1709.6 2567.4V2611.5M1706.6 2567.4h6M1706.6 2611.5h6M1739.7 2524.1V2560.9M1736.7 2524.1h6M1736.7 2560.9h6M1769.7 2483.5V2531.2M1766.7 2483.5h6M1766.7 2531.2h6M1799.8 2474.2V2484.1M1796.8 2474.2h6M1796.8 2484.1h6M1829.9 2444.2V2488.9M1826.9 2444.2h6M1826.9 2488.9h6M1859.9 2491.1V2543.6M1856.9 2491.1h6M1856.9 2543.6h6M1890.0 2521.5V2547.5M1887.0 2521.5h6M1887.0 2547.5h6M1920.0 2561.6V2584.3M1917.0 2561.6h6M1917.0 2584.3h6M1950.1 2583.9V2595.2M1947.1 2583.9h6M1947.1 2595.2h6M1980.2 2597.8V2609.9M1977.2 2597.8h6M1977.2 2609.9h6M2010.2 2588.2V2594.3M2007.2 2588.2h6M2007.2 2594.3h6" stroke="#2ca02c" stroke-width="1.3" fill="none"/><circle cx="1679.6" cy="2632.1" r="3.4" fill="#2ca02c"/><circle cx="1709.6" cy="2589.8" r="3.4" fill="#2ca02c"/><circle cx="1739.7" cy="2542.5" r="3.4" fill="#2ca02c"/><circle cx="1769.7" cy="2507.4" r="3.4" fill="#2ca02c"/><circle cx="1799.8" cy="2479.2" r="3.4" fill="#2ca02c"/><circle cx="1829.9" cy="2466.6" r="3.4" fill="#2ca02c"/><circle cx="1859.9" cy="2517.5" r="3.4" fill="#2ca02c"/><circle cx="1890.0" cy="2534.5" r="3.4" fill="#2ca02c"/><circle cx="1920.0" cy="2572.9" r="3.4" fill="#2ca02c"/><circle cx="1950.1" cy="2589.6" r="3.4" fill="#2ca02c"/><circle cx="1980.2" cy="2603.9" r="3.4" fill="#2ca02c"/><circle cx="2010.2" cy="2591.3" r="3.4" fill="#2ca02c"/><polyline points="1679.6,2647.7 1709.6,2603.4 1739.7,2555.7 1769.7,2531.2 1799.8,2501.5 1829.9,2466.6 1859.9,2482.0 1890.0,2513.2 1920.0,2545.3 1950.1,2573.1 1980.2,2599.1 2010.2,2606.0" fill="none" stroke="#d62728" stroke-width="1.5" stroke-linejoin="round"/><path d="M1679.6 2639.6V2656.6M1676.6 2639.6h6M1676.6 2656.6h6M1709.6 2589.8V2618.0M1706.6 2589.8h6M1706.6 2618.0h6M1739.7 2549.6V2561.8M1736.7 2549.6h6M1736.7 2561.8h6M1769.7 2528.0V2534.5M1766.7 2528.0h6M1766.7 2534.5h6M1799.8 2495.4V2507.6M1796.8 2495.4h6M1796.8 2507.6h6M1829.9 2452.1V2481.3M1826.9 2452.1h6M1826.9 2481.3h6M1859.9 2466.8V2497.2M1856.9 2466.8h6M1856.9 2497.2h6M1890.0 2506.3V2520.2M1887.0 2506.3h6M1887.0 2520.2h6M1920.0 2535.5V2555.1M1917.0 2535.5h6M1917.0 2555.1h6M1950.1 2569.2V2577.0M1947.1 2569.2h6M1947.1 2577.0h6M1980.2 2595.2V2603.0M1977.2 2595.2h6M1977.2 2603.0h6M2010.2 2600.6V2611.5M2007.2 2600.6h6M2007.2 2611.5h6" stroke="#d62728" stroke-width="1.3" fill="none"/><circle cx="1679.6" cy="2647.7" r="3.4" fill="#d62728"/><circle cx="1709.6" cy="2603.4" r="3.4" fill="#d62728"/><circle cx="1739.7" cy="2555.7" r="3.4" fill="#d62728"/><circle cx="1769.7" cy="2531.2" r="3.4" fill="#d62728"/><circle cx="1799.8" cy="2501.5" r="3.4" fill="#d62728"/><circle cx="1829.9" cy="2466.6" r="3.4" fill="#d62728"/><circle cx="1859.9" cy="2482.0" r="3.4" fill="#d62728"/><circle cx="1890.0" cy="2513.2" r="3.4" fill="#d62728"/><circle cx="1920.0" cy="2545.3" r="3.4" fill="#d62728"/><circle cx="1950.1" cy="2573.1" r="3.4" fill="#d62728"/><circle cx="1980.2" cy="2599.1" r="3.4" fill="#d62728"/><circle cx="2010.2" cy="2606.0" r="3.4" fill="#d62728"/><rect x="1649.6" y="2433.6" width="376.9" height="233.8" fill="none" stroke="#222" stroke-width="1.1"/><rect x="1712.5" y="2598.4" width="250.5" height="59.6" rx="3.5" fill="#fff" fill-opacity="0.8" stroke="#cfcfcf" stroke-width="1"/><path d="M1719.5 2613.2H1757.0" stroke="#1f77b4" stroke-width="1.5" fill="none"/><path d="M1738.2 2604.2V2622.2M1735.2 2604.2h6M1735.2 2622.2h6" stroke="#1f77b4" stroke-width="1.3" fill="none"/><circle cx="1738.2" cy="2613.2" r="3.4" fill="#1f77b4"/><text x="1772.2" y="2619.8" font-size="18.3" fill="#000">AGN</text><path d="M1719.5 2640.3H1757.0" stroke="#ff7f0e" stroke-width="1.5" fill="none"/><path d="M1738.2 2631.3V2649.3M1735.2 2631.3h6M1735.2 2649.3h6" stroke="#ff7f0e" stroke-width="1.3" fill="none"/><circle cx="1738.2" cy="2640.3" r="3.4" fill="#ff7f0e"/><text x="1772.2" y="2646.9" font-size="18.3" fill="#000">SST-2</text><path d="M1860.0 2613.2H1897.5" stroke="#2ca02c" stroke-width="1.5" fill="none"/><path d="M1878.8 2604.2V2622.2M1875.8 2604.2h6M1875.8 2622.2h6" stroke="#2ca02c" stroke-width="1.3" fill="none"/><circle cx="1878.8" cy="2613.2" r="3.4" fill="#2ca02c"/><text x="1912.7" y="2619.8" font-size="18.3" fill="#000">QNLI</text><path d="M1860.0 2640.3H1897.5" stroke="#d62728" stroke-width="1.5" fill="none"/><path d="M1878.8 2631.3V2649.3M1875.8 2631.3h6M1875.8 2649.3h6" stroke="#d62728" stroke-width="1.3" fill="none"/><circle cx="1878.8" cy="2640.3" r="3.4" fill="#d62728"/><text x="1912.7" y="2646.9" font-size="18.3" fill="#000">QQP</text><text x="1643.1" y="2470.5" font-size="19.3" text-anchor="end" fill="#000">0.15</text><text x="1643.1" y="2537.3" font-size="19.3" text-anchor="end" fill="#000">0.10</text><text x="1643.1" y="2603.7" font-size="19.3" text-anchor="end" fill="#000">0.05</text><text x="1643.1" y="2670.5" font-size="19.3" text-anchor="end" fill="#000">0.00</text><text x="1649.6" y="2686.7" font-size="19.8" text-anchor="middle" fill="#000">0</text><text x="1709.8" y="2686.7" font-size="19.8" text-anchor="middle" fill="#000">2</text><text x="1769.9" y="2686.7" font-size="19.8" text-anchor="middle" fill="#000">4</text><text x="1830.0" y="2686.7" font-size="19.8" text-anchor="middle" fill="#000">6</text><text x="1890.1" y="2686.7" font-size="19.8" text-anchor="middle" fill="#000">8</text><text x="1950.2" y="2686.7" font-size="19.8" text-anchor="middle" fill="#000">10</text><text x="2010.4" y="2686.7" font-size="19.8" text-anchor="middle" fill="#000">12</text><text x="1838.1" y="2427.8" font-size="24" text-anchor="middle" fill="#000" >Fraction of Graft</text><text x="1838.1" y="2711.9" font-size="24.2" text-anchor="middle" fill="#000" >Layer Number</text></svg>
<svg style="left:2280px;top:2395px" width="460" height="460" viewBox="2280 2395 460 460"><rect x="2349.5" y="2409.7" width="368.2" height="298.6" fill="#fff"/><path d="M2349.5 2706.6H2717.7M2349.5 2682.4H2717.7M2349.5 2670.3H2717.7M2349.5 2658.2H2717.7M2349.5 2646.1H2717.7M2349.5 2621.9H2717.7M2349.5 2609.8H2717.7M2349.5 2597.7H2717.7M2349.5 2585.6H2717.7M2349.5 2561.4H2717.7M2349.5 2549.3H2717.7M2349.5 2537.2H2717.7M2349.5 2525.1H2717.7M2349.5 2500.9H2717.7M2349.5 2488.8H2717.7M2349.5 2476.7H2717.7M2349.5 2464.6H2717.7M2349.5 2440.4H2717.7M2349.5 2428.3H2717.7M2349.5 2416.2H2717.7" stroke="#c4c4c4" stroke-width="0.8" stroke-dasharray="0.9 1.5" fill="none"/><path d="M2357.2 2409.7V2708.3M2366.5 2409.7V2708.3M2375.7 2409.7V2708.3M2385.0 2409.7V2708.3M2394.3 2409.7V2708.3M2403.6 2409.7V2708.3M2412.9 2409.7V2708.3M2422.2 2409.7V2708.3M2431.5 2409.7V2708.3M2440.7 2409.7V2708.3M2450.0 2409.7V2708.3M2459.3 2409.7V2708.3M2468.6 2409.7V2708.3M2477.9 2409.7V2708.3M2487.2 2409.7V2708.3M2496.4 2409.7V2708.3M2505.7 2409.7V2708.3M2515.0 2409.7V2708.3M2524.3 2409.7V2708.3M2533.6 2409.7V2708.3M2542.9 2409.7V2708.3M2552.2 2409.7V2708.3M2561.4 2409.7V2708.3M2570.7 2409.7V2708.3M2580.0 2409.7V2708.3M2589.3 2409.7V2708.3M2598.6 2409.7V2708.3M2607.9 2409.7V2708.3M2617.2 2409.7V2708.3M2626.4 2409.7V2708.3M2635.7 2409.7V2708.3M2645.0 2409.7V2708.3M2654.3 2409.7V2708.3M2663.6 2409.7V2708.3M2672.9 2409.7V2708.3M2682.1 2409.7V2708.3M2691.4 2409.7V2708.3M2700.7 2409.7V2708.3M2710.0 2409.7V2708.3" stroke="#c4c4c4" stroke-width="0.8" stroke-dasharray="0.9 1.5" fill="none"/><path d="M2349.5 2452.5H2717.7M2349.5 2513.2H2717.7M2349.5 2573.4H2717.7M2349.5 2634.1H2717.7M2349.5 2694.5H2717.7" stroke="#b4b4b4" stroke-width="1.0" fill="none"/><path d="M2385.0 2409.7V2708.3M2422.0 2409.7V2708.3M2459.2 2409.7V2708.3M2496.2 2409.7V2708.3M2533.8 2409.7V2708.3M2608.0 2409.7V2708.3M2644.9 2409.7V2708.3M2682.2 2409.7V2708.3" stroke="#b4b4b4" stroke-width="1.0" fill="none"/><path d="M2347.1 2706.6H2349.5M2347.1 2682.4H2349.5M2347.1 2670.3H2349.5M2347.1 2658.2H2349.5M2347.1 2646.1H2349.5M2347.1 2621.9H2349.5M2347.1 2609.8H2349.5M2347.1 2597.7H2349.5M2347.1 2585.6H2349.5M2347.1 2561.4H2349.5M2347.1 2549.3H2349.5M2347.1 2537.2H2349.5M2347.1 2525.1H2349.5M2347.1 2500.9H2349.5M2347.1 2488.8H2349.5M2347.1 2476.7H2349.5M2347.1 2464.6H2349.5M2347.1 2440.4H2349.5M2347.1 2428.3H2349.5M2347.1 2416.2H2349.5" stroke="#222" stroke-width="0.8" fill="none"/><path d="M2345.0 2452.5H2349.5M2345.0 2513.2H2349.5M2345.0 2573.4H2349.5M2345.0 2634.1H2349.5M2345.0 2694.5H2349.5" stroke="#222" stroke-width="1.0" fill="none"/><path d="M2385.0 2708.3V2712.8M2422.0 2708.3V2712.8M2459.2 2708.3V2712.8M2496.2 2708.3V2712.8M2533.8 2708.3V2712.8M2608.0 2708.3V2712.8M2644.9 2708.3V2712.8M2682.2 2708.3V2712.8" stroke="#222" stroke-width="1.0" fill="none"/><path d="M2357.2 2708.3V2710.7M2366.5 2708.3V2710.7M2375.7 2708.3V2710.7M2385.0 2708.3V2710.7M2394.3 2708.3V2710.7M2403.6 2708.3V2710.7M2412.9 2708.3V2710.7M2422.2 2708.3V2710.7M2431.5 2708.3V2710.7M2440.7 2708.3V2710.7M2450.0 2708.3V2710.7M2459.3 2708.3V2710.7M2468.6 2708.3V2710.7M2477.9 2708.3V2710.7M2487.2 2708.3V2710.7M2496.4 2708.3V2710.7M2505.7 2708.3V2710.7M2515.0 2708.3V2710.7M2524.3 2708.3V2710.7M2533.6 2708.3V2710.7M2542.9 2708.3V2710.7M2552.2 2708.3V2710.7M2561.4 2708.3V2710.7M2570.7 2708.3V2710.7M2580.0 2708.3V2710.7M2589.3 2708.3V2710.7M2598.6 2708.3V2710.7M2607.9 2708.3V2710.7M2617.2 2708.3V2710.7M2626.4 2708.3V2710.7M2635.7 2708.3V2710.7M2645.0 2708.3V2710.7M2654.3 2708.3V2710.7M2663.6 2708.3V2710.7M2672.9 2708.3V2710.7M2682.1 2708.3V2710.7M2691.4 2708.3V2710.7M2700.7 2708.3V2710.7M2710.0 2708.3V2710.7" stroke="#222" stroke-width="0.8" fill="none"/><rect x="2366.2" y="2663.1" width="37.3" height="31.4" fill="#DDA0DD" stroke="#222" stroke-width="1"/><rect x="2403.5" y="2680.2" width="37.0" height="14.4" fill="#DDA0DD" stroke="#222" stroke-width="1"/><rect x="2440.5" y="2489.5" width="37.3" height="205.1" fill="#DDA0DD" stroke="#222" stroke-width="1"/><rect x="2477.7" y="2693.4" width="37.3" height="1.2" fill="#DDA0DD" stroke="#222" stroke-width="1"/><rect x="2515.0" y="2616.2" width="37.6" height="78.3" fill="#DDA0DD" stroke="#222" stroke-width="1"/><rect x="2589.2" y="2482.4" width="37.3" height="212.1" fill="#ADD8E6" stroke="#222" stroke-width="1"/><rect x="2626.5" y="2681.3" width="37.0" height="13.2" fill="#ADD8E6" stroke="#222" stroke-width="1"/><rect x="2663.4" y="2643.5" width="37.3" height="51.0" fill="#ADD8E6" stroke="#222" stroke-width="1"/><circle cx="2385.0" cy="2663.1" r="3" fill="#000"/><circle cx="2422.0" cy="2680.2" r="3" fill="#000"/><circle cx="2459.2" cy="2489.5" r="3" fill="#000"/><circle cx="2496.2" cy="2693.4" r="3" fill="#000"/><circle cx="2533.8" cy="2616.2" r="3" fill="#000"/><circle cx="2608.0" cy="2482.4" r="3" fill="#000"/><circle cx="2644.9" cy="2681.3" r="3" fill="#000"/><circle cx="2682.2" cy="2643.5" r="3" fill="#000"/><path d="M2385.0 2661.4V2664.9M2382.5 2661.4h5M2382.5 2664.9h5M2422.0 2675.8V2685.4M2419.5 2675.8h5M2419.5 2685.4h5M2459.2 2423.5V2556.4M2456.7 2423.5h5M2456.7 2556.4h5M2533.8 2578.6V2653.7M2531.3 2578.6h5M2531.3 2653.7h5M2608.0 2461.3V2504.4M2605.5 2461.3h5M2605.5 2504.4h5M2644.9 2676.6V2685.4M2642.4 2676.6h5M2642.4 2685.4h5M2682.2 2604.5V2683.4M2679.7 2604.5h5M2679.7 2683.4h5" stroke="#111" stroke-width="1.1" fill="none"/><rect x="2349.5" y="2409.7" width="368.2" height="298.6" fill="none" stroke="#8a8a8a" stroke-width="1.2"/><rect x="2355.7" y="2419.9" width="355.6" height="31.7" rx="3.5" fill="#fff" fill-opacity="0.8" stroke="#cfcfcf" stroke-width="1"/><rect x="2362.4" y="2427.6" width="37.0" height="12.9" fill="#DDA0DD" stroke="#222" stroke-width="1"/><text x="2414.9" y="2440.5" font-size="18.4" text-anchor="start" fill="#000" >Attention</text><rect x="2537.3" y="2427.6" width="37.0" height="12.9" fill="#ADD8E6" stroke="#222" stroke-width="1"/><text x="2590.1" y="2440.5" font-size="18.4" text-anchor="start" fill="#000" >Feedforward</text><text x="2343.1" y="2459.2" font-size="18.7" text-anchor="end" fill="#000">0.4</text><text x="2343.1" y="2520.0" font-size="18.7" text-anchor="end" fill="#000">0.3</text><text x="2343.1" y="2580.1" font-size="18.7" text-anchor="end" fill="#000">0.2</text><text x="2343.1" y="2640.8" font-size="18.7" text-anchor="end" fill="#000">0.1</text><text x="2343.1" y="2701.3" font-size="18.7" text-anchor="end" fill="#000">0.0</text><text transform="translate(2391.5 2715.4) rotate(-90)" font-size="18.5" text-anchor="end" fill="#000" >Query</text><text transform="translate(2428.4 2715.4) rotate(-90)" font-size="18.5" text-anchor="end" fill="#000" >Key</text><text transform="translate(2465.7 2715.4) rotate(-90)" font-size="18.5" text-anchor="end" fill="#000" >Value</text><text transform="translate(2502.7 2715.4) rotate(-90)" font-size="18.5" text-anchor="end" fill="#000" >Output</text><text transform="translate(2540.2 2715.4) rotate(-90)" font-size="18.5" text-anchor="end" fill="#000" >Layernorm</text><text transform="translate(2614.4 2715.4) rotate(-90)" font-size="18.5" text-anchor="end" fill="#000" >Intermediate</text><text transform="translate(2651.4 2715.4) rotate(-90)" font-size="18.5" text-anchor="end" fill="#000" >Output</text><text transform="translate(2688.7 2715.4) rotate(-90)" font-size="18.5" text-anchor="end" fill="#000" >Layernorm</text><text transform="translate(2307.0 2559.3) rotate(-90)" font-size="18.5" text-anchor="middle" fill="#000" >Fraction of Graft</text></svg>
<svg style="left:2920px;top:680px" width="640" height="450" viewBox="2920 680 640 450"><rect x="3011.3" y="744.6" width="474.4" height="313.7" fill="#fff"/><path d="M3011.3 766.4H3485.7M3011.3 781.1H3485.7M3011.3 795.8H3485.7M3011.3 810.5H3485.7M3011.3 839.9H3485.7M3011.3 854.6H3485.7M3011.3 869.3H3485.7M3011.3 884.0H3485.7M3011.3 913.4H3485.7M3011.3 928.1H3485.7M3011.3 942.8H3485.7M3011.3 957.5H3485.7M3011.3 986.9H3485.7M3011.3 1001.5H3485.7M3011.3 1016.2H3485.7M3011.3 1030.9H3485.7" stroke="#c4c4c4" stroke-width="0.8" stroke-dasharray="0.9 1.5" fill="none"/><path d="M3011.3 751.7H3485.7M3011.3 825.2H3485.7M3011.3 898.4H3485.7M3011.3 972.2H3485.7M3011.3 1045.6H3485.7" stroke="#b4b4b4" stroke-width="1.0" fill="none"/><path d="M3033.1 744.6V1058.3M3111.4 744.6V1058.3M3181.7 744.6V1058.3M3252.3 744.6V1058.3M3322.7 744.6V1058.3M3393.3 744.6V1058.3M3463.6 744.6V1058.3" stroke="#b4b4b4" stroke-width="1.0" fill="none"/><path d="M3008.7 766.4H3011.3M3008.7 781.1H3011.3M3008.7 795.8H3011.3M3008.7 810.5H3011.3M3008.7 839.9H3011.3M3008.7 854.6H3011.3M3008.7 869.3H3011.3M3008.7 884.0H3011.3M3008.7 913.4H3011.3M3008.7 928.1H3011.3M3008.7 942.8H3011.3M3008.7 957.5H3011.3M3008.7 986.9H3011.3M3008.7 1001.5H3011.3M3008.7 1016.2H3011.3M3008.7 1030.9H3011.3" stroke="#222" stroke-width="0.8" fill="none"/><path d="M3006.3 751.7H3011.3M3006.3 825.2H3011.3M3006.3 898.4H3011.3M3006.3 972.2H3011.3M3006.3 1045.6H3011.3" stroke="#222" stroke-width="1.0" fill="none"/><path d="M3033.1 1058.3V1063.3M3111.4 1058.3V1063.3M3181.7 1058.3V1063.3M3252.3 1058.3V1063.3M3322.7 1058.3V1063.3M3393.3 1058.3V1063.3M3463.6 1058.3V1063.3" stroke="#222" stroke-width="1.0" fill="none"/><polyline points="3033.1,959.8 3149.6,858.8 3189.2,878.9 3252.3,893.8 3322.7,908.2 3393.3,929.7 3463.6,979.0" fill="none" stroke="#1f77b4" stroke-width="1.8" stroke-linejoin="round"/><path d="M3149.6 849.3V868.6M3146.0 849.3h7.2M3146.0 868.6h7.2M3252.3 890.9V898.1M3248.7 890.9h7.2M3248.7 898.1h7.2M3322.7 905.3V911.0M3319.1 905.3h7.2M3319.1 911.0h7.2M3393.3 922.5V937.4M3389.7 922.5h7.2M3389.7 937.4h7.2M3463.6 953.2V1004.9M3460.0 953.2h7.2M3460.0 1004.9h7.2" stroke="#1f77b4" stroke-width="1.5" fill="none"/><circle cx="3033.1" cy="959.8" r="4.2" fill="#1f77b4"/><circle cx="3149.6" cy="858.8" r="4.2" fill="#1f77b4"/><circle cx="3189.2" cy="878.9" r="4.2" fill="#1f77b4"/><circle cx="3252.3" cy="893.8" r="4.2" fill="#1f77b4"/><circle cx="3322.7" cy="908.2" r="4.2" fill="#1f77b4"/><circle cx="3393.3" cy="929.7" r="4.2" fill="#1f77b4"/><circle cx="3463.6" cy="979.0" r="4.2" fill="#1f77b4"/><polyline points="3033.1,953.2 3149.6,844.4 3189.2,861.7 3252.3,886.1 3322.7,900.7 3393.3,925.4 3463.6,983.1" fill="none" stroke="#ff7f0e" stroke-width="1.8" stroke-linejoin="round"/><path d="M3149.6 840.7V852.2M3146.0 840.7h7.2M3146.0 852.2h7.2M3252.3 873.4V899.3M3248.7 873.4h7.2M3248.7 899.3h7.2M3322.7 893.8V907.6M3319.1 893.8h7.2M3319.1 907.6h7.2M3393.3 915.9V934.9M3389.7 915.9h7.2M3389.7 934.9h7.2M3463.6 949.8V1016.9M3460.0 949.8h7.2M3460.0 1016.9h7.2" stroke="#ff7f0e" stroke-width="1.5" fill="none"/><circle cx="3033.1" cy="953.2" r="4.2" fill="#ff7f0e"/><circle cx="3149.6" cy="844.4" r="4.2" fill="#ff7f0e"/><circle cx="3189.2" cy="861.7" r="4.2" fill="#ff7f0e"/><circle cx="3252.3" cy="886.1" r="4.2" fill="#ff7f0e"/><circle cx="3322.7" cy="900.7" r="4.2" fill="#ff7f0e"/><circle cx="3393.3" cy="925.4" r="4.2" fill="#ff7f0e"/><circle cx="3463.6" cy="983.1" r="4.2" fill="#ff7f0e"/><polyline points="3033.1,931.4 3149.6,831.2 3189.2,836.4 3252.3,860.8 3322.7,874.3 3393.3,896.7 3463.6,933.7" fill="none" stroke="#2ca02c" stroke-width="1.8" stroke-linejoin="round"/><path d="M3149.6 822.6V840.1M3146.0 822.6h7.2M3146.0 840.1h7.2M3189.2 825.5V847.6M3185.6 825.5h7.2M3185.6 847.6h7.2M3252.3 850.5V871.4M3248.7 850.5h7.2M3248.7 871.4h7.2M3322.7 854.8V893.8M3319.1 854.8h7.2M3319.1 893.8h7.2M3393.3 883.2V910.5M3389.7 883.2h7.2M3389.7 910.5h7.2M3463.6 861.4V1006.3M3460.0 861.4h7.2M3460.0 1006.3h7.2" stroke="#2ca02c" stroke-width="1.5" fill="none"/><circle cx="3033.1" cy="931.4" r="4.2" fill="#2ca02c"/><circle cx="3149.6" cy="831.2" r="4.2" fill="#2ca02c"/><circle cx="3189.2" cy="836.4" r="4.2" fill="#2ca02c"/><circle cx="3252.3" cy="860.8" r="4.2" fill="#2ca02c"/><circle cx="3322.7" cy="874.3" r="4.2" fill="#2ca02c"/><circle cx="3393.3" cy="896.7" r="4.2" fill="#2ca02c"/><circle cx="3463.6" cy="933.7" r="4.2" fill="#2ca02c"/><polyline points="3033.1,1044.2 3149.6,779.6 3189.2,775.0 3252.3,773.6 3322.7,768.4 3393.3,768.4 3463.6,767.2" fill="none" stroke="#000" stroke-width="1.7" stroke-dasharray="6 3.2" stroke-linejoin="round"/><path d="M3149.6 773.3V785.6M3146.0 773.3h7.2M3146.0 785.6h7.2M3189.2 772.4V777.6M3185.6 772.4h7.2M3185.6 777.6h7.2M3252.3 766.1V781.0M3248.7 766.1h7.2M3248.7 781.0h7.2M3322.7 761.2V775.6M3319.1 761.2h7.2M3319.1 775.6h7.2M3393.3 762.4V774.7M3389.7 762.4h7.2M3389.7 774.7h7.2M3463.6 758.3V776.1M3460.0 758.3h7.2M3460.0 776.1h7.2" stroke="#000" stroke-width="1.5" fill="none"/><circle cx="3033.1" cy="1044.2" r="4.2" fill="#000"/><circle cx="3149.6" cy="779.6" r="4.2" fill="#000"/><circle cx="3189.2" cy="775.0" r="4.2" fill="#000"/><circle cx="3252.3" cy="773.6" r="4.2" fill="#000"/><circle cx="3322.7" cy="768.4" r="4.2" fill="#000"/><circle cx="3393.3" cy="768.4" r="4.2" fill="#000"/><circle cx="3463.6" cy="767.2" r="4.2" fill="#000"/><rect x="3011.3" y="744.6" width="474.4" height="313.7" fill="none" stroke="#222" stroke-width="1.1"/><rect x="2971.7" y="695.8" width="553.9" height="34.4" rx="3.5" fill="#fff" fill-opacity="0.8" stroke="#cfcfcf" stroke-width="1"/><path d="M2978.3 711.6H3019.6" stroke="#1f77b4" stroke-width="1.8" fill="none"/><path d="M2998.9 701.6V721.6M2995.9 701.6h6M2995.9 721.6h6" stroke="#1f77b4" stroke-width="1.3" fill="none"/><circle cx="2998.9" cy="711.6" r="4.2" fill="#1f77b4"/><text x="3034.8" y="718.8" font-size="20" fill="#000">Amazon</text><path d="M3153.9 711.6H3194.9" stroke="#ff7f0e" stroke-width="1.8" fill="none"/><path d="M3174.4 701.6V721.6M3171.4 701.6h6M3171.4 721.6h6" stroke="#ff7f0e" stroke-width="1.3" fill="none"/><circle cx="3174.4" cy="711.6" r="4.2" fill="#ff7f0e"/><text x="3210.4" y="718.8" font-size="20" fill="#000">Yelp</text><path d="M3289.1 711.6H3330.4" stroke="#2ca02c" stroke-width="1.8" fill="none"/><path d="M3309.7 701.6V721.6M3306.7 701.6h6M3306.7 721.6h6" stroke="#2ca02c" stroke-width="1.3" fill="none"/><circle cx="3309.7" cy="711.6" r="4.2" fill="#2ca02c"/><text x="3345.9" y="718.8" font-size="20" fill="#000">SST-2</text><path d="M3440.9 711.6H3481.1" stroke="#000" stroke-width="1.7" stroke-dasharray="6 3.2" fill="none"/><path d="M3461.0 701.6V721.6M3458.0 701.6h6M3458.0 721.6h6" stroke="#000" stroke-width="1.3" fill="none"/><circle cx="3461.0" cy="711.6" r="4.2" fill="#000"/><text x="3496.9" y="718.8" font-size="20" fill="#000">ID</text><text x="3003.2" y="759.4" font-size="21.3" text-anchor="end" fill="#000">90</text><text x="3003.2" y="832.9" font-size="21.3" text-anchor="end" fill="#000">85</text><text x="3003.2" y="906.1" font-size="21.3" text-anchor="end" fill="#000">80</text><text x="3003.2" y="979.8" font-size="21.3" text-anchor="end" fill="#000">75</text><text x="3003.2" y="1053.3" font-size="21.3" text-anchor="end" fill="#000">70</text><text x="3033.1" y="1080.4" font-size="21.3" text-anchor="middle" fill="#000">0</text><text x="3111.4" y="1080.4" font-size="21.3" text-anchor="middle" fill="#000">10<tspan dy="-8.9" font-size="14.1">&minus;5</tspan></text><text x="3181.7" y="1080.4" font-size="21.3" text-anchor="middle" fill="#000">10<tspan dy="-8.9" font-size="14.1">&minus;4</tspan></text><text x="3252.3" y="1080.4" font-size="21.3" text-anchor="middle" fill="#000">10<tspan dy="-8.9" font-size="14.1">&minus;3</tspan></text><text x="3322.7" y="1080.4" font-size="21.3" text-anchor="middle" fill="#000">10<tspan dy="-8.9" font-size="14.1">&minus;2</tspan></text><text x="3393.3" y="1080.4" font-size="21.3" text-anchor="middle" fill="#000">10<tspan dy="-8.9" font-size="14.1">&minus;1</tspan></text><text x="3463.6" y="1080.4" font-size="21.3" text-anchor="middle" fill="#000">10<tspan dy="-8.9" font-size="14.1">0</tspan></text><text x="3248.0" y="1116.8" font-size="33.6" text-anchor="middle" fill="#000" >Sparsity Level</text><text transform="translate(2966.8 901.0) rotate(-90)" font-size="32" text-anchor="middle" fill="#000" >Accuracy</text></svg>
<svg style="left:3630px;top:680px" width="660" height="450" viewBox="3630 680 660 450"><rect x="3747.1" y="696.6" width="454.0" height="352.7" fill="#fff"/><path d="M3747.1 721.8H4201.1M3747.1 737.1H4201.1M3747.1 752.5H4201.1M3747.1 783.2H4201.1M3747.1 798.5H4201.1M3747.1 813.9H4201.1M3747.1 844.6H4201.1M3747.1 859.9H4201.1M3747.1 875.3H4201.1M3747.1 906.0H4201.1M3747.1 921.4H4201.1M3747.1 936.7H4201.1M3747.1 967.4H4201.1M3747.1 982.8H4201.1M3747.1 998.1H4201.1M3747.1 1028.8H4201.1M3747.1 1044.2H4201.1" stroke="#c4c4c4" stroke-width="0.8" stroke-dasharray="0.9 1.5" fill="none"/><path d="M3787.2 696.6V1049.4M3808.9 696.6V1049.4M3830.6 696.6V1049.4M3852.2 696.6V1049.4M3895.6 696.6V1049.4M3917.3 696.6V1049.4M3939.0 696.6V1049.4M3960.7 696.6V1049.4M4004.1 696.6V1049.4M4025.8 696.6V1049.4M4047.5 696.6V1049.4M4069.2 696.6V1049.4M4112.6 696.6V1049.4M4134.3 696.6V1049.4M4156.0 696.6V1049.4M4177.7 696.6V1049.4" stroke="#c4c4c4" stroke-width="0.8" stroke-dasharray="0.9 1.5" fill="none"/><path d="M3747.1 706.4H4201.1M3747.1 767.5H4201.1M3747.1 829.2H4201.1M3747.1 890.4H4201.1M3747.1 952.1H4201.1M3747.1 1013.5H4201.1" stroke="#b4b4b4" stroke-width="1.0" fill="none"/><path d="M3765.5 696.6V1049.4M3874.2 696.6V1049.4M3982.4 696.6V1049.4M4090.9 696.6V1049.4M4199.7 696.6V1049.4" stroke="#b4b4b4" stroke-width="1.0" fill="none"/><path d="M3744.5 721.8H3747.1M3744.5 737.1H3747.1M3744.5 752.5H3747.1M3744.5 783.2H3747.1M3744.5 798.5H3747.1M3744.5 813.9H3747.1M3744.5 844.6H3747.1M3744.5 859.9H3747.1M3744.5 875.3H3747.1M3744.5 906.0H3747.1M3744.5 921.4H3747.1M3744.5 936.7H3747.1M3744.5 967.4H3747.1M3744.5 982.8H3747.1M3744.5 998.1H3747.1M3744.5 1028.8H3747.1M3744.5 1044.2H3747.1" stroke="#222" stroke-width="0.8" fill="none"/><path d="M3742.1 706.4H3747.1M3742.1 767.5H3747.1M3742.1 829.2H3747.1M3742.1 890.4H3747.1M3742.1 952.1H3747.1M3742.1 1013.5H3747.1" stroke="#222" stroke-width="1.0" fill="none"/><path d="M3765.5 1049.4V1054.4M3874.2 1049.4V1054.4M3982.4 1049.4V1054.4M4090.9 1049.4V1054.4M4199.7 1049.4V1054.4" stroke="#222" stroke-width="1.0" fill="none"/><path d="M3787.2 1049.4V1052.0M3808.9 1049.4V1052.0M3830.6 1049.4V1052.0M3852.2 1049.4V1052.0M3895.6 1049.4V1052.0M3917.3 1049.4V1052.0M3939.0 1049.4V1052.0M3960.7 1049.4V1052.0M4004.1 1049.4V1052.0M4025.8 1049.4V1052.0M4047.5 1049.4V1052.0M4069.2 1049.4V1052.0M4112.6 1049.4V1052.0M4134.3 1049.4V1052.0M4156.0 1049.4V1052.0M4177.7 1049.4V1052.0" stroke="#222" stroke-width="0.8" fill="none"/><polyline points="3767.8,1017.2 3776.9,1009.5 3876.2,908.7 3948.0,820.6 3995.9,751.2 4034.9,726.8 4070.2,738.5 4094.9,745.7 4121.0,757.5 4135.1,771.6 4147.2,783.3 4157.5,812.0" fill="none" stroke="#ff0d0d" stroke-width="1.5" stroke-dasharray="5.5 2.6" stroke-linejoin="round"/><path d="M3767.8 1012.6L3771.8 1020.2H3763.8Z" fill="#ff0d0d"/><path d="M3776.9 1004.9L3780.9 1012.5H3772.9Z" fill="#ff0d0d"/><path d="M3876.2 904.1L3880.2 911.7H3872.2Z" fill="#ff0d0d"/><path d="M3948.0 816.0L3952.0 823.6H3944.0Z" fill="#ff0d0d"/><path d="M3995.9 746.6L3999.9 754.2H3991.9Z" fill="#ff0d0d"/><path d="M4034.9 722.2L4038.9 729.8H4030.9Z" fill="#ff0d0d"/><path d="M4070.2 733.9L4074.2 741.5H4066.2Z" fill="#ff0d0d"/><path d="M4094.9 741.1L4098.9 748.7H4090.9Z" fill="#ff0d0d"/><path d="M4121.0 752.9L4125.0 760.5H4117.0Z" fill="#ff0d0d"/><path d="M4135.1 767.0L4139.1 774.6H4131.1Z" fill="#ff0d0d"/><path d="M4147.2 778.7L4151.2 786.3H4143.2Z" fill="#ff0d0d"/><path d="M4157.5 807.4L4161.5 815.0H4153.5Z" fill="#ff0d0d"/><polygon points="4157.5,802.6 4159.7,809.5 4167.0,809.5 4161.1,813.8 4163.4,820.7 4157.5,816.4 4151.6,820.7 4153.9,813.8 4148.0,809.5 4155.2,809.5" fill="#ff0d0d"/><polygon points="4165.0,812.6 4167.2,819.5 4174.5,819.5 4168.6,823.8 4170.8,830.7 4165.0,826.5 4159.1,830.7 4161.3,823.8 4155.4,819.5 4162.7,819.5" fill="#ff0d0d"/><polygon points="4166.1,864.0 4168.3,870.9 4175.6,870.9 4169.7,875.2 4172.0,882.1 4166.1,877.8 4160.2,882.1 4162.5,875.2 4156.6,870.9 4163.9,870.9" fill="#ff0d0d"/><polygon points="4173.9,891.0 4176.1,897.9 4183.4,897.9 4177.5,902.2 4179.7,909.1 4173.9,904.8 4168.0,909.1 4170.2,902.2 4164.3,897.9 4171.6,897.9" fill="#ff0d0d"/><polygon points="4178.4,1024.1 4180.7,1031.1 4188.0,1031.1 4182.1,1035.3 4184.3,1042.2 4178.4,1038.0 4172.6,1042.2 4174.8,1035.3 4168.9,1031.1 4176.2,1031.1" fill="#ff0d0d"/><polyline points="3770.1,1015.2 3794.2,992.8 3955.2,775.3 4034.4,713.0 4106.7,726.8 4154.9,757.8 4170.1,785.0 4170.1,831.5 4177.0,875.2 4179.3,912.5 4180.5,963.0 4178.4,1033.6" fill="none" stroke="#0a0aff" stroke-width="1.6" stroke-linejoin="round"/><circle cx="3770.1" cy="1015.2" r="3.9" fill="#0a0aff"/><circle cx="3794.2" cy="992.8" r="3.9" fill="#0a0aff"/><circle cx="3955.2" cy="775.3" r="3.9" fill="#0a0aff"/><circle cx="4034.4" cy="713.0" r="3.9" fill="#0a0aff"/><circle cx="4106.7" cy="726.8" r="3.9" fill="#0a0aff"/><circle cx="4154.9" cy="757.8" r="3.9" fill="#0a0aff"/><circle cx="4170.1" cy="785.0" r="3.9" fill="#0a0aff"/><circle cx="4170.1" cy="831.5" r="3.9" fill="#0a0aff"/><circle cx="4177.0" cy="875.2" r="3.9" fill="#0a0aff"/><circle cx="4179.3" cy="912.5" r="3.9" fill="#0a0aff"/><circle cx="4180.5" cy="963.0" r="3.9" fill="#0a0aff"/><circle cx="4178.4" cy="1033.6" r="3.9" fill="#0a0aff"/><rect x="3747.1" y="696.6" width="454.0" height="352.7" fill="none" stroke="#222" stroke-width="1.1"/><rect x="3859.6" y="917.6" width="228.7" height="118.2" rx="3.5" fill="#fff" fill-opacity="0.8" stroke="#cfcfcf" stroke-width="1"/><path d="M3869.1 937.7H3921.3" stroke="#0a0aff" stroke-width="1.6" fill="none"/><circle cx="3895.2" cy="937.7" r="3.9" fill="#0a0aff"/><text x="3941.4" y="946.8" font-size="25.2" fill="#000">WiSE-FT</text><polygon points="3895.2,966.8 3897.4,973.7 3904.7,973.7 3898.8,977.9 3901.1,984.8 3895.2,980.6 3889.3,984.8 3891.5,977.9 3885.7,973.7 3892.9,973.7" fill="#ff0d0d"/><text x="3941.4" y="984.7" font-size="25.2" text-anchor="start" fill="#000" >Graft</text><path d="M3869.1 1012.9H3921.3" stroke="#ff0d0d" stroke-width="1.5" stroke-dasharray="5.5 2.6" fill="none"/><path d="M3895.2 1008.3L3899.2 1015.9H3891.2Z" fill="#ff0d0d"/><text x="3941.4" y="1022.0" font-size="25.2" fill="#000">WiSE-Graft</text><text x="3739.6" y="715.5" font-size="25.2" text-anchor="end" fill="#000">0.88</text><text x="3739.6" y="776.6" font-size="25.2" text-anchor="end" fill="#000">0.86</text><text x="3739.6" y="838.3" font-size="25.2" text-anchor="end" fill="#000">0.84</text><text x="3739.6" y="899.4" font-size="25.2" text-anchor="end" fill="#000">0.82</text><text x="3739.6" y="961.1" font-size="25.2" text-anchor="end" fill="#000">0.80</text><text x="3739.6" y="1022.6" font-size="25.2" text-anchor="end" fill="#000">0.78</text><text x="3765.5" y="1076.1" font-size="25.2" text-anchor="middle" fill="#000">0.70</text><text x="3874.2" y="1076.1" font-size="25.2" text-anchor="middle" fill="#000">0.75</text><text x="3982.4" y="1076.1" font-size="25.2" text-anchor="middle" fill="#000">0.80</text><text x="4090.9" y="1076.1" font-size="25.2" text-anchor="middle" fill="#000">0.85</text><text x="4199.7" y="1076.1" font-size="25.2" text-anchor="middle" fill="#000">0.90</text><text x="3973.5" y="1110.5" font-size="32.8" text-anchor="middle" fill="#000" >ID Accuracy</text><text transform="translate(3671.6 872.9) rotate(-90)" font-size="32.8" text-anchor="middle" fill="#000" >OOD Accuracy</text></svg>
<svg style="left:2930px;top:1930px" width="620" height="450" viewBox="2930 1930 620 450"><rect x="3010.05" y="1955.82" width="51.48" height="41.90" fill="#c83836"/><rect x="3061.23" y="1955.82" width="51.48" height="41.90" fill="#c53334"/><rect x="3112.41" y="1955.82" width="51.48" height="41.90" fill="#efcfbf"/><rect x="3163.59" y="1955.82" width="51.48" height="41.90" fill="#ead4c8"/><rect x="3214.78" y="1955.82" width="51.48" height="41.90" fill="#ebd3c6"/><rect x="3265.96" y="1955.82" width="51.48" height="41.90" fill="#dadce0"/><rect x="3317.14" y="1955.82" width="51.48" height="41.90" fill="#cad8ef"/><rect x="3368.32" y="1955.82" width="51.48" height="41.90" fill="#e0dbd8"/><rect x="3010.05" y="1997.43" width="51.48" height="41.90" fill="#e36c55"/><rect x="3061.23" y="1997.43" width="51.48" height="41.90" fill="#b8122a"/><rect x="3112.41" y="1997.43" width="51.48" height="41.90" fill="#e5d8d1"/><rect x="3163.59" y="1997.43" width="51.48" height="41.90" fill="#eed0c0"/><rect x="3214.78" y="1997.43" width="51.48" height="41.90" fill="#e9d5cb"/><rect x="3265.96" y="1997.43" width="51.48" height="41.90" fill="#e8d6cc"/><rect x="3317.14" y="1997.43" width="51.48" height="41.90" fill="#edd2c3"/><rect x="3368.32" y="1997.43" width="51.48" height="41.90" fill="#efcfbf"/><rect x="3010.05" y="2039.03" width="51.48" height="41.90" fill="#d1dae9"/><rect x="3061.23" y="2039.03" width="51.48" height="41.90" fill="#bbd1f8"/><rect x="3112.41" y="2039.03" width="51.48" height="41.90" fill="#d44e41"/><rect x="3163.59" y="2039.03" width="51.48" height="41.90" fill="#f6a385"/><rect x="3214.78" y="2039.03" width="51.48" height="41.90" fill="#f4c6af"/><rect x="3265.96" y="2039.03" width="51.48" height="41.90" fill="#f7b194"/><rect x="3317.14" y="2039.03" width="51.48" height="41.90" fill="#cad8ef"/><rect x="3368.32" y="2039.03" width="51.48" height="41.90" fill="#dcdddd"/><rect x="3010.05" y="2080.64" width="51.48" height="41.90" fill="#c7d7f0"/><rect x="3061.23" y="2080.64" width="51.48" height="41.90" fill="#a7c5fe"/><rect x="3112.41" y="2080.64" width="51.48" height="41.90" fill="#e9785d"/><rect x="3163.59" y="2080.64" width="51.48" height="41.90" fill="#cf453c"/><rect x="3214.78" y="2080.64" width="51.48" height="41.90" fill="#f7b093"/><rect x="3265.96" y="2080.64" width="51.48" height="41.90" fill="#f59c7d"/><rect x="3317.14" y="2080.64" width="51.48" height="41.90" fill="#ef886b"/><rect x="3368.32" y="2080.64" width="51.48" height="41.90" fill="#7da0f9"/><rect x="3010.05" y="2122.24" width="51.48" height="41.90" fill="#7da0f9"/><rect x="3061.23" y="2122.24" width="51.48" height="41.90" fill="#4055c8"/><rect x="3112.41" y="2122.24" width="51.48" height="41.90" fill="#f1ccb8"/><rect x="3163.59" y="2122.24" width="51.48" height="41.90" fill="#e9d5cb"/><rect x="3214.78" y="2122.24" width="51.48" height="41.90" fill="#c53334"/><rect x="3265.96" y="2122.24" width="51.48" height="41.90" fill="#f59c7d"/><rect x="3317.14" y="2122.24" width="51.48" height="41.90" fill="#5d7ce6"/><rect x="3368.32" y="2122.24" width="51.48" height="41.90" fill="#f5c0a7"/><rect x="3010.05" y="2163.85" width="51.48" height="41.90" fill="#f7ba9f"/><rect x="3061.23" y="2163.85" width="51.48" height="41.90" fill="#f6a283"/><rect x="3112.41" y="2163.85" width="51.48" height="41.90" fill="#f4c6af"/><rect x="3163.59" y="2163.85" width="51.48" height="41.90" fill="#ecd3c5"/><rect x="3214.78" y="2163.85" width="51.48" height="41.90" fill="#f4c6af"/><rect x="3265.96" y="2163.85" width="51.48" height="41.90" fill="#cc403a"/><rect x="3317.14" y="2163.85" width="51.48" height="41.90" fill="#3b4cc0"/><rect x="3368.32" y="2163.85" width="51.48" height="41.90" fill="#f6bda2"/><rect x="3010.05" y="2205.45" width="51.48" height="41.90" fill="#afcafc"/><rect x="3061.23" y="2205.45" width="51.48" height="41.90" fill="#6f92f3"/><rect x="3112.41" y="2205.45" width="51.48" height="41.90" fill="#f1ccb8"/><rect x="3163.59" y="2205.45" width="51.48" height="41.90" fill="#e3d9d3"/><rect x="3214.78" y="2205.45" width="51.48" height="41.90" fill="#f3c8b2"/><rect x="3265.96" y="2205.45" width="51.48" height="41.90" fill="#f18d6f"/><rect x="3317.14" y="2205.45" width="51.48" height="41.90" fill="#cb3e38"/><rect x="3368.32" y="2205.45" width="51.48" height="41.90" fill="#cfdaea"/><rect x="3010.05" y="2247.05" width="51.48" height="41.90" fill="#b1cbfc"/><rect x="3061.23" y="2247.05" width="51.48" height="41.90" fill="#dddcdc"/><rect x="3112.41" y="2247.05" width="51.48" height="41.90" fill="#cdd9ec"/><rect x="3163.59" y="2247.05" width="51.48" height="41.90" fill="#e5d8d1"/><rect x="3214.78" y="2247.05" width="51.48" height="41.90" fill="#d9dce1"/><rect x="3265.96" y="2247.05" width="51.48" height="41.90" fill="#e5d8d1"/><rect x="3317.14" y="2247.05" width="51.48" height="41.90" fill="#e57058"/><rect x="3368.32" y="2247.05" width="51.48" height="41.90" fill="#c32e31"/><text x="3035.6" y="1981.6" font-size="13.9" text-anchor="middle" fill="#fff">0.89</text><text x="3086.8" y="1981.6" font-size="13.9" text-anchor="middle" fill="#fff">0.90</text><text x="3138.0" y="1981.6" font-size="13.9" text-anchor="middle" fill="#262626">0.16</text><text x="3189.2" y="1981.6" font-size="13.9" text-anchor="middle" fill="#262626">0.11</text><text x="3240.4" y="1981.6" font-size="13.9" text-anchor="middle" fill="#262626">0.12</text><text x="3291.5" y="1981.6" font-size="13.9" text-anchor="middle" fill="#262626">-0.02</text><text x="3342.7" y="1981.6" font-size="13.9" text-anchor="middle" fill="#262626">-0.14</text><text x="3393.9" y="1981.6" font-size="13.9" text-anchor="middle" fill="#262626">0.03</text><text x="3035.6" y="2023.2" font-size="13.9" text-anchor="middle" fill="#fff">0.70</text><text x="3086.8" y="2023.2" font-size="13.9" text-anchor="middle" fill="#fff">0.97</text><text x="3138.0" y="2023.2" font-size="13.9" text-anchor="middle" fill="#262626">0.07</text><text x="3189.2" y="2023.2" font-size="13.9" text-anchor="middle" fill="#262626">0.15</text><text x="3240.4" y="2023.2" font-size="13.9" text-anchor="middle" fill="#262626">0.10</text><text x="3291.5" y="2023.2" font-size="13.9" text-anchor="middle" fill="#262626">0.09</text><text x="3342.7" y="2023.2" font-size="13.9" text-anchor="middle" fill="#262626">0.14</text><text x="3393.9" y="2023.2" font-size="13.9" text-anchor="middle" fill="#262626">0.16</text><text x="3035.6" y="2064.8" font-size="13.9" text-anchor="middle" fill="#262626">-0.09</text><text x="3086.8" y="2064.8" font-size="13.9" text-anchor="middle" fill="#262626">-0.23</text><text x="3138.0" y="2064.8" font-size="13.9" text-anchor="middle" fill="#fff">0.82</text><text x="3189.2" y="2064.8" font-size="13.9" text-anchor="middle" fill="#262626">0.45</text><text x="3240.4" y="2064.8" font-size="13.9" text-anchor="middle" fill="#262626">0.24</text><text x="3291.5" y="2064.8" font-size="13.9" text-anchor="middle" fill="#262626">0.37</text><text x="3342.7" y="2064.8" font-size="13.9" text-anchor="middle" fill="#262626">-0.14</text><text x="3393.9" y="2064.8" font-size="13.9" text-anchor="middle" fill="#262626">-0.00</text><text x="3035.6" y="2106.4" font-size="13.9" text-anchor="middle" fill="#262626">-0.15</text><text x="3086.8" y="2106.4" font-size="13.9" text-anchor="middle" fill="#262626">-0.35</text><text x="3138.0" y="2106.4" font-size="13.9" text-anchor="middle" fill="#fff">0.65</text><text x="3189.2" y="2106.4" font-size="13.9" text-anchor="middle" fill="#fff">0.85</text><text x="3240.4" y="2106.4" font-size="13.9" text-anchor="middle" fill="#262626">0.38</text><text x="3291.5" y="2106.4" font-size="13.9" text-anchor="middle" fill="#262626">0.49</text><text x="3342.7" y="2106.4" font-size="13.9" text-anchor="middle" fill="#fff">0.58</text><text x="3393.9" y="2106.4" font-size="13.9" text-anchor="middle" fill="#fff">-0.59</text><text x="3035.6" y="2148.0" font-size="13.9" text-anchor="middle" fill="#fff">-0.59</text><text x="3086.8" y="2148.0" font-size="13.9" text-anchor="middle" fill="#fff">-0.96</text><text x="3138.0" y="2148.0" font-size="13.9" text-anchor="middle" fill="#262626">0.19</text><text x="3189.2" y="2148.0" font-size="13.9" text-anchor="middle" fill="#262626">0.10</text><text x="3240.4" y="2148.0" font-size="13.9" text-anchor="middle" fill="#fff">0.90</text><text x="3291.5" y="2148.0" font-size="13.9" text-anchor="middle" fill="#262626">0.49</text><text x="3342.7" y="2148.0" font-size="13.9" text-anchor="middle" fill="#fff">-0.78</text><text x="3393.9" y="2148.0" font-size="13.9" text-anchor="middle" fill="#262626">0.28</text><text x="3035.6" y="2189.7" font-size="13.9" text-anchor="middle" fill="#262626">0.32</text><text x="3086.8" y="2189.7" font-size="13.9" text-anchor="middle" fill="#262626">0.46</text><text x="3138.0" y="2189.7" font-size="13.9" text-anchor="middle" fill="#262626">0.24</text><text x="3189.2" y="2189.7" font-size="13.9" text-anchor="middle" fill="#262626">0.13</text><text x="3240.4" y="2189.7" font-size="13.9" text-anchor="middle" fill="#262626">0.24</text><text x="3291.5" y="2189.7" font-size="13.9" text-anchor="middle" fill="#fff">0.86</text><text x="3342.7" y="2189.7" font-size="13.9" text-anchor="middle" fill="#fff">-1.09</text><text x="3393.9" y="2189.7" font-size="13.9" text-anchor="middle" fill="#262626">0.30</text><text x="3035.6" y="2231.3" font-size="13.9" text-anchor="middle" fill="#262626">-0.30</text><text x="3086.8" y="2231.3" font-size="13.9" text-anchor="middle" fill="#fff">-0.67</text><text x="3138.0" y="2231.3" font-size="13.9" text-anchor="middle" fill="#262626">0.19</text><text x="3189.2" y="2231.3" font-size="13.9" text-anchor="middle" fill="#262626">0.05</text><text x="3240.4" y="2231.3" font-size="13.9" text-anchor="middle" fill="#262626">0.22</text><text x="3291.5" y="2231.3" font-size="13.9" text-anchor="middle" fill="#fff">0.56</text><text x="3342.7" y="2231.3" font-size="13.9" text-anchor="middle" fill="#fff">0.87</text><text x="3393.9" y="2231.3" font-size="13.9" text-anchor="middle" fill="#262626">-0.10</text><text x="3035.6" y="2272.9" font-size="13.9" text-anchor="middle" fill="#262626">-0.29</text><text x="3086.8" y="2272.9" font-size="13.9" text-anchor="middle" fill="#262626">0.00</text><text x="3138.0" y="2272.9" font-size="13.9" text-anchor="middle" fill="#262626">-0.11</text><text x="3189.2" y="2272.9" font-size="13.9" text-anchor="middle" fill="#262626">0.07</text><text x="3240.4" y="2272.9" font-size="13.9" text-anchor="middle" fill="#262626">-0.03</text><text x="3291.5" y="2272.9" font-size="13.9" text-anchor="middle" fill="#262626">0.07</text><text x="3342.7" y="2272.9" font-size="13.9" text-anchor="middle" fill="#fff">0.68</text><text x="3393.9" y="2272.9" font-size="13.9" text-anchor="middle" fill="#fff">0.92</text><text x="2998.3" y="1983.4" font-size="18.8" text-anchor="end" fill="#262626">SST-2</text><text x="2998.3" y="2025.0" font-size="18.8" text-anchor="end" fill="#262626">CR</text><text x="2998.3" y="2066.6" font-size="18.8" text-anchor="end" fill="#262626">SNLI</text><text x="2998.3" y="2108.2" font-size="18.8" text-anchor="end" fill="#262626">MNLI</text><text x="2998.3" y="2149.8" font-size="18.8" text-anchor="end" fill="#262626">QNLI</text><text x="2998.3" y="2191.4" font-size="18.8" text-anchor="end" fill="#262626">QQP</text><text x="2998.3" y="2233.0" font-size="18.8" text-anchor="end" fill="#262626">MRPC</text><text x="2998.3" y="2274.6" font-size="18.8" text-anchor="end" fill="#262626">AGN</text><text transform="translate(3042.2 2302.1) rotate(-90)" font-size="18.3" text-anchor="end" fill="#262626" >SST-2</text><text transform="translate(3093.4 2302.1) rotate(-90)" font-size="18.3" text-anchor="end" fill="#262626" >CR</text><text transform="translate(3144.6 2302.1) rotate(-90)" font-size="18.3" text-anchor="end" fill="#262626" >SNLI</text><text transform="translate(3195.8 2302.1) rotate(-90)" font-size="18.3" text-anchor="end" fill="#262626" >MNLI</text><text transform="translate(3247.0 2302.1) rotate(-90)" font-size="18.3" text-anchor="end" fill="#262626" >QNLI</text><text transform="translate(3298.1 2302.1) rotate(-90)" font-size="18.3" text-anchor="end" fill="#262626" >QQP</text><text transform="translate(3349.3 2302.1) rotate(-90)" font-size="18.3" text-anchor="end" fill="#262626" >MRPC</text><text transform="translate(3400.5 2302.1) rotate(-90)" font-size="18.3" text-anchor="end" fill="#262626" >AGN</text><defs><linearGradient id="cb2930" x1="0" y1="0" x2="0" y2="1"><stop offset="0.00" stop-color="#b40426"/><stop offset="0.05" stop-color="#c53334"/><stop offset="0.10" stop-color="#d65244"/><stop offset="0.15" stop-color="#e36c55"/><stop offset="0.20" stop-color="#ee8468"/><stop offset="0.25" stop-color="#f4987a"/><stop offset="0.30" stop-color="#f7ac8e"/><stop offset="0.35" stop-color="#f6bda2"/><stop offset="0.40" stop-color="#f2cbb7"/><stop offset="0.45" stop-color="#e9d5cb"/><stop offset="0.50" stop-color="#dddcdc"/><stop offset="0.55" stop-color="#cfdaea"/><stop offset="0.60" stop-color="#c0d4f5"/><stop offset="0.65" stop-color="#afcafc"/><stop offset="0.70" stop-color="#9ebeff"/><stop offset="0.75" stop-color="#8db0fe"/><stop offset="0.80" stop-color="#7b9ff9"/><stop offset="0.85" stop-color="#6a8bef"/><stop offset="0.90" stop-color="#5977e3"/><stop offset="0.95" stop-color="#4961d2"/><stop offset="1.00" stop-color="#3b4cc0"/></linearGradient></defs><rect x="3445.3" y="1955.8" width="15.5" height="332.8" fill="url(#cb2930)"/><path d="M3460.8 1955.8h5" stroke="#262626" stroke-width="1"/><text x="3473.2" y="1960.6" font-size="13.4" fill="#262626">1.00</text><path d="M3460.8 1997.4h5" stroke="#262626" stroke-width="1"/><text x="3473.2" y="2002.3" font-size="13.4" fill="#262626">0.75</text><path d="M3460.8 2039.0h5" stroke="#262626" stroke-width="1"/><text x="3473.2" y="2043.9" font-size="13.4" fill="#262626">0.50</text><path d="M3460.8 2080.6h5" stroke="#262626" stroke-width="1"/><text x="3473.2" y="2085.5" font-size="13.4" fill="#262626">0.25</text><path d="M3460.8 2122.2h5" stroke="#262626" stroke-width="1"/><text x="3473.2" y="2127.1" font-size="13.4" fill="#262626">0.00</text><path d="M3460.8 2163.8h5" stroke="#262626" stroke-width="1"/><text x="3473.2" y="2168.7" font-size="13.4" fill="#262626">&minus;0.25</text><path d="M3460.8 2205.5h5" stroke="#262626" stroke-width="1"/><text x="3473.2" y="2210.3" font-size="13.4" fill="#262626">&minus;0.50</text><path d="M3460.8 2247.1h5" stroke="#262626" stroke-width="1"/><text x="3473.2" y="2251.9" font-size="13.4" fill="#262626">&minus;0.75</text><path d="M3460.8 2288.7h5" stroke="#262626" stroke-width="1"/><text x="3473.2" y="2293.5" font-size="13.4" fill="#262626">&minus;1.00</text></svg>
<svg style="left:3590px;top:1930px" width="700" height="450" viewBox="3590 1930 700 450"><rect x="3750.41" y="1954.97" width="48.62" height="63.49" fill="#b6cefa"/><rect x="3798.73" y="1954.97" width="48.62" height="63.49" fill="#6384eb"/><rect x="3847.04" y="1954.97" width="48.62" height="63.49" fill="#e36b54"/><rect x="3895.36" y="1954.97" width="48.62" height="63.49" fill="#d75445"/><rect x="3943.68" y="1954.97" width="48.62" height="63.49" fill="#f4987a"/><rect x="3992.00" y="1954.97" width="48.62" height="63.49" fill="#e7745b"/><rect x="4040.31" y="1954.97" width="48.62" height="63.49" fill="#f7ac8e"/><rect x="4088.63" y="1954.97" width="48.62" height="63.49" fill="#e9d5cb"/><rect x="3750.41" y="2018.15" width="48.62" height="63.49" fill="#f5c2aa"/><rect x="3798.73" y="2018.15" width="48.62" height="63.49" fill="#f1ccb8"/><rect x="3847.04" y="2018.15" width="48.62" height="63.49" fill="#e9d5cb"/><rect x="3895.36" y="2018.15" width="48.62" height="63.49" fill="#e3d9d3"/><rect x="3943.68" y="2018.15" width="48.62" height="63.49" fill="#e8d6cc"/><rect x="3992.00" y="2018.15" width="48.62" height="63.49" fill="#e57058"/><rect x="4040.31" y="2018.15" width="48.62" height="63.49" fill="#d44e41"/><rect x="4088.63" y="2018.15" width="48.62" height="63.49" fill="#efcebd"/><rect x="3750.41" y="2081.34" width="48.62" height="63.49" fill="#dc5d4a"/><rect x="3798.73" y="2081.34" width="48.62" height="63.49" fill="#b40426"/><rect x="3847.04" y="2081.34" width="48.62" height="63.49" fill="#f6bea4"/><rect x="3895.36" y="2081.34" width="48.62" height="63.49" fill="#f5c1a9"/><rect x="3943.68" y="2081.34" width="48.62" height="63.49" fill="#e0654f"/><rect x="3992.00" y="2081.34" width="48.62" height="63.49" fill="#e16751"/><rect x="4040.31" y="2081.34" width="48.62" height="63.49" fill="#7295f4"/><rect x="4088.63" y="2081.34" width="48.62" height="63.49" fill="#f39475"/><rect x="3750.41" y="2144.53" width="48.62" height="63.49" fill="#d1493f"/><rect x="3798.73" y="2144.53" width="48.62" height="63.49" fill="#c0282f"/><rect x="3847.04" y="2144.53" width="48.62" height="63.49" fill="#f7b599"/><rect x="3895.36" y="2144.53" width="48.62" height="63.49" fill="#f7b194"/><rect x="3943.68" y="2144.53" width="48.62" height="63.49" fill="#dd5f4b"/><rect x="3992.00" y="2144.53" width="48.62" height="63.49" fill="#ec8165"/><rect x="4040.31" y="2144.53" width="48.62" height="63.49" fill="#f7af91"/><rect x="4088.63" y="2144.53" width="48.62" height="63.49" fill="#cc403a"/><rect x="3750.41" y="2207.72" width="48.62" height="63.49" fill="#d95847"/><rect x="3798.73" y="2207.72" width="48.62" height="63.49" fill="#c0282f"/><rect x="3847.04" y="2207.72" width="48.62" height="63.49" fill="#efcebd"/><rect x="3895.36" y="2207.72" width="48.62" height="63.49" fill="#f2cab5"/><rect x="3943.68" y="2207.72" width="48.62" height="63.49" fill="#eed0c0"/><rect x="3992.00" y="2207.72" width="48.62" height="63.49" fill="#f3c8b2"/><rect x="4040.31" y="2207.72" width="48.62" height="63.49" fill="#edd2c3"/><rect x="4088.63" y="2207.72" width="48.62" height="63.49" fill="#f1ccb8"/><text x="3774.6" y="1991.6" font-size="13.9" text-anchor="middle" fill="#262626">-0.26</text><text x="3822.9" y="1991.6" font-size="13.9" text-anchor="middle" fill="#fff">-0.74</text><text x="3871.2" y="1991.6" font-size="13.9" text-anchor="middle" fill="#fff">0.71</text><text x="3919.5" y="1991.6" font-size="13.9" text-anchor="middle" fill="#fff">0.79</text><text x="3967.8" y="1991.6" font-size="13.9" text-anchor="middle" fill="#262626">0.50</text><text x="4016.2" y="1991.6" font-size="13.9" text-anchor="middle" fill="#fff">0.67</text><text x="4064.5" y="1991.6" font-size="13.9" text-anchor="middle" fill="#262626">0.40</text><text x="4112.8" y="1991.6" font-size="13.9" text-anchor="middle" fill="#262626">0.10</text><text x="3774.6" y="2054.8" font-size="13.9" text-anchor="middle" fill="#262626">0.26</text><text x="3822.9" y="2054.8" font-size="13.9" text-anchor="middle" fill="#262626">0.19</text><text x="3871.2" y="2054.8" font-size="13.9" text-anchor="middle" fill="#262626">0.10</text><text x="3919.5" y="2054.8" font-size="13.9" text-anchor="middle" fill="#262626">0.05</text><text x="3967.8" y="2054.8" font-size="13.9" text-anchor="middle" fill="#262626">0.09</text><text x="4016.2" y="2054.8" font-size="13.9" text-anchor="middle" fill="#fff">0.68</text><text x="4064.5" y="2054.8" font-size="13.9" text-anchor="middle" fill="#fff">0.82</text><text x="4112.8" y="2054.8" font-size="13.9" text-anchor="middle" fill="#262626">0.17</text><text x="3774.6" y="2117.9" font-size="13.9" text-anchor="middle" fill="#fff">0.76</text><text x="3822.9" y="2117.9" font-size="13.9" text-anchor="middle" fill="#fff">1.00</text><text x="3871.2" y="2117.9" font-size="13.9" text-anchor="middle" fill="#262626">0.29</text><text x="3919.5" y="2117.9" font-size="13.9" text-anchor="middle" fill="#262626">0.27</text><text x="3967.8" y="2117.9" font-size="13.9" text-anchor="middle" fill="#fff">0.73</text><text x="4016.2" y="2117.9" font-size="13.9" text-anchor="middle" fill="#fff">0.72</text><text x="4064.5" y="2117.9" font-size="13.9" text-anchor="middle" fill="#fff">-0.65</text><text x="4112.8" y="2117.9" font-size="13.9" text-anchor="middle" fill="#262626">0.53</text><text x="3774.6" y="2181.1" font-size="13.9" text-anchor="middle" fill="#fff">0.83</text><text x="3822.9" y="2181.1" font-size="13.9" text-anchor="middle" fill="#fff">0.93</text><text x="3871.2" y="2181.1" font-size="13.9" text-anchor="middle" fill="#262626">0.35</text><text x="3919.5" y="2181.1" font-size="13.9" text-anchor="middle" fill="#262626">0.37</text><text x="3967.8" y="2181.1" font-size="13.9" text-anchor="middle" fill="#fff">0.75</text><text x="4016.2" y="2181.1" font-size="13.9" text-anchor="middle" fill="#fff">0.61</text><text x="4064.5" y="2181.1" font-size="13.9" text-anchor="middle" fill="#262626">0.39</text><text x="4112.8" y="2181.1" font-size="13.9" text-anchor="middle" fill="#fff">0.86</text><text x="3774.6" y="2244.3" font-size="13.9" text-anchor="middle" fill="#fff">0.78</text><text x="3822.9" y="2244.3" font-size="13.9" text-anchor="middle" fill="#fff">0.93</text><text x="3871.2" y="2244.3" font-size="13.9" text-anchor="middle" fill="#262626">0.17</text><text x="3919.5" y="2244.3" font-size="13.9" text-anchor="middle" fill="#262626">0.21</text><text x="3967.8" y="2244.3" font-size="13.9" text-anchor="middle" fill="#262626">0.15</text><text x="4016.2" y="2244.3" font-size="13.9" text-anchor="middle" fill="#262626">0.22</text><text x="4064.5" y="2244.3" font-size="13.9" text-anchor="middle" fill="#262626">0.14</text><text x="4112.8" y="2244.3" font-size="13.9" text-anchor="middle" fill="#262626">0.19</text><rect x="3847.3" y="1955.3" width="47.7" height="62.6" fill="none" stroke="#000" stroke-width="2.9"/><rect x="3895.7" y="1955.3" width="47.7" height="62.6" fill="none" stroke="#000" stroke-width="2.9"/><rect x="4040.6" y="2018.5" width="47.7" height="62.6" fill="none" stroke="#000" stroke-width="2.9"/><rect x="3750.7" y="2081.6" width="47.7" height="62.6" fill="none" stroke="#000" stroke-width="2.9"/><rect x="3799.0" y="2081.6" width="47.7" height="62.6" fill="none" stroke="#000" stroke-width="2.9"/><rect x="3944.0" y="2081.6" width="47.7" height="62.6" fill="none" stroke="#000" stroke-width="2.9"/><rect x="3992.3" y="2081.6" width="47.7" height="62.6" fill="none" stroke="#000" stroke-width="2.9"/><rect x="3750.7" y="2144.8" width="47.7" height="62.6" fill="none" stroke="#000" stroke-width="2.9"/><rect x="3799.0" y="2144.8" width="47.7" height="62.6" fill="none" stroke="#000" stroke-width="2.9"/><rect x="3944.0" y="2144.8" width="47.7" height="62.6" fill="none" stroke="#000" stroke-width="2.9"/><rect x="4088.9" y="2144.8" width="47.7" height="62.6" fill="none" stroke="#000" stroke-width="2.9"/><rect x="3750.7" y="2208.0" width="47.7" height="62.6" fill="none" stroke="#000" stroke-width="2.9"/><rect x="3799.0" y="2208.0" width="47.7" height="62.6" fill="none" stroke="#000" stroke-width="2.9"/><text x="3739.8" y="1992.4" font-size="16.3" text-anchor="end" fill="#262626">MNLI, QNLI, SNLI</text><text x="3739.8" y="2055.6" font-size="16.3" text-anchor="end" fill="#262626">MRPC, QQP</text><text x="3739.8" y="2118.8" font-size="16.3" text-anchor="end" fill="#262626">QNLI, QQP, CR</text><text x="3739.8" y="2182.0" font-size="16.3" text-anchor="end" fill="#262626">QNLI, SST-2, AGN</text><text x="3739.8" y="2245.2" font-size="16.3" text-anchor="end" fill="#262626">SST-2, CR</text><text transform="translate(3781.2 2284.1) rotate(-90)" font-size="18.3" text-anchor="end" fill="#262626" >SST-2</text><text transform="translate(3829.5 2284.1) rotate(-90)" font-size="18.3" text-anchor="end" fill="#262626" >CR</text><text transform="translate(3877.8 2284.1) rotate(-90)" font-size="18.3" text-anchor="end" fill="#262626" >SNLI</text><text transform="translate(3926.1 2284.1) rotate(-90)" font-size="18.3" text-anchor="end" fill="#262626" >MNLI</text><text transform="translate(3974.4 2284.1) rotate(-90)" font-size="18.3" text-anchor="end" fill="#262626" >QNLI</text><text transform="translate(4022.7 2284.1) rotate(-90)" font-size="18.3" text-anchor="end" fill="#262626" >QQP</text><text transform="translate(4071.1 2284.1) rotate(-90)" font-size="18.3" text-anchor="end" fill="#262626" >MRPC</text><text transform="translate(4119.4 2284.1) rotate(-90)" font-size="18.3" text-anchor="end" fill="#262626" >AGN</text><defs><linearGradient id="cb3590" x1="0" y1="0" x2="0" y2="1"><stop offset="0.00" stop-color="#b40426"/><stop offset="0.05" stop-color="#c53334"/><stop offset="0.10" stop-color="#d65244"/><stop offset="0.15" stop-color="#e36c55"/><stop offset="0.20" stop-color="#ee8468"/><stop offset="0.25" stop-color="#f4987a"/><stop offset="0.30" stop-color="#f7ac8e"/><stop offset="0.35" stop-color="#f6bda2"/><stop offset="0.40" stop-color="#f2cbb7"/><stop offset="0.45" stop-color="#e9d5cb"/><stop offset="0.50" stop-color="#dddcdc"/><stop offset="0.55" stop-color="#cfdaea"/><stop offset="0.60" stop-color="#c0d4f5"/><stop offset="0.65" stop-color="#afcafc"/><stop offset="0.70" stop-color="#9ebeff"/><stop offset="0.75" stop-color="#8db0fe"/><stop offset="0.80" stop-color="#7b9ff9"/><stop offset="0.85" stop-color="#6a8bef"/><stop offset="0.90" stop-color="#5977e3"/><stop offset="0.95" stop-color="#4961d2"/><stop offset="1.00" stop-color="#3b4cc0"/></linearGradient></defs><rect x="4161.1" y="1955.0" width="15.8" height="315.9" fill="url(#cb3590)"/><path d="M4176.8 1955.0h5" stroke="#262626" stroke-width="1"/><text x="4188.3" y="1959.8" font-size="13.4" fill="#262626">1.00</text><path d="M4176.8 1994.5h5" stroke="#262626" stroke-width="1"/><text x="4188.3" y="1999.3" font-size="13.4" fill="#262626">0.75</text><path d="M4176.8 2034.0h5" stroke="#262626" stroke-width="1"/><text x="4188.3" y="2038.8" font-size="13.4" fill="#262626">0.50</text><path d="M4176.8 2073.4h5" stroke="#262626" stroke-width="1"/><text x="4188.3" y="2078.3" font-size="13.4" fill="#262626">0.25</text><path d="M4176.8 2112.9h5" stroke="#262626" stroke-width="1"/><text x="4188.3" y="2117.8" font-size="13.4" fill="#262626">0.00</text><path d="M4176.8 2152.4h5" stroke="#262626" stroke-width="1"/><text x="4188.3" y="2157.3" font-size="13.4" fill="#262626">&minus;0.25</text><path d="M4176.8 2191.9h5" stroke="#262626" stroke-width="1"/><text x="4188.3" y="2196.7" font-size="13.4" fill="#262626">&minus;0.50</text><path d="M4176.8 2231.4h5" stroke="#262626" stroke-width="1"/><text x="4188.3" y="2236.2" font-size="13.4" fill="#262626">&minus;0.75</text><path d="M4176.8 2270.9h5" stroke="#262626" stroke-width="1"/><text x="4188.3" y="2275.7" font-size="13.4" fill="#262626">&minus;1.00</text></svg>
</body></html>
